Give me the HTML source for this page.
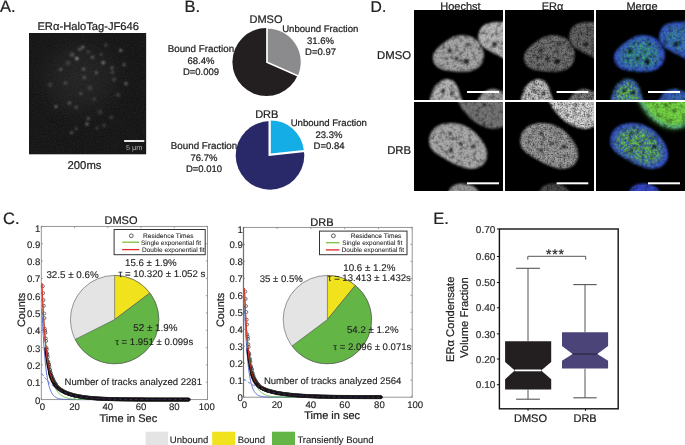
<!DOCTYPE html><html><head><meta charset="utf-8"><style>html,body{margin:0;padding:0;background:#fff;overflow:hidden}svg{display:block;font-family:"Liberation Sans",sans-serif}</style></head><body><svg width="685" height="445" viewBox="0 0 685 445" font-family="Liberation Sans, sans-serif" style="will-change:transform" text-rendering="geometricPrecision">
<defs>
<filter id="noise" x="0" y="0" width="100%" height="100%">
<feTurbulence type="fractalNoise" baseFrequency="0.9" numOctaves="2" seed="3" result="t"/>
<feColorMatrix type="matrix" values="0 0 0 0 1  0 0 0 0 1  0 0 0 0 1  0 0 0 0.35 -0.1"/>
</filter>
<filter id="b1"><feGaussianBlur stdDeviation="1"/></filter>
<filter id="b20" x="-50%" y="-50%" width="200%" height="200%"><feGaussianBlur stdDeviation="14"/></filter>
<filter id="b07"><feGaussianBlur stdDeviation="0.7"/></filter>
<filter id="b15"><feGaussianBlur stdDeviation="1.5"/></filter>
<filter id="tex" x="0" y="0" width="100%" height="100%">
<feTurbulence type="fractalNoise" baseFrequency="0.6" numOctaves="2" seed="7"/>
<feColorMatrix type="matrix" values="0 0 0 0 0  0 0 0 0 0  0 0 0 0 0  0 0 0 -1.2 0.75"/>
</filter>
<clipPath id="cA"><rect x="29" y="33" width="117.4" height="121.6"/></clipPath>
</defs>
<rect width="685" height="445" fill="#fff"/>
<text x="0" y="11.5" font-size="16.5" text-anchor="start" fill="#222" stroke="#222" stroke-width="0.22" >A.</text>
<text x="184.6" y="11.6" font-size="16.5" text-anchor="start" fill="#222" stroke="#222" stroke-width="0.22" >B.</text>
<text x="3" y="223.5" font-size="16.5" text-anchor="start" fill="#222" stroke="#222" stroke-width="0.22" >C.</text>
<text x="370.6" y="11.6" font-size="15.7" text-anchor="start" fill="#222" stroke="#222" stroke-width="0.22" >D.</text>
<text x="433.3" y="224" font-size="16.5" text-anchor="start" fill="#222" stroke="#222" stroke-width="0.22" >E.</text>
<text x="88.2" y="29.8" font-size="11.2" text-anchor="middle" fill="#222" stroke="#222" stroke-width="0.22" >ERα-HaloTag-JF646</text>
<g clip-path="url(#cA)">
<rect x="29" y="33" width="117.4" height="121.6" fill="#141414"/>
<rect x="29" y="33" width="117.4" height="121.6" filter="url(#noise)" opacity="0.3"/>
<ellipse cx="80" cy="78" rx="34" ry="32" fill="#fff" opacity="0.06" filter="url(#b20)"/>
<g filter="url(#b1)">
<circle cx="76.9" cy="58.6" r="1.43" fill="#fff" opacity="0.75"/>
<circle cx="82.9" cy="47.2" r="1.43" fill="#fff" opacity="0.41"/>
<circle cx="79.6" cy="49.2" r="1.76" fill="#fff" opacity="0.26"/>
<circle cx="72.1" cy="54.6" r="2.20" fill="#fff" opacity="0.22"/>
<circle cx="60.7" cy="69.4" r="1.21" fill="#fff" opacity="0.45"/>
<circle cx="83.6" cy="69.1" r="1.32" fill="#fff" opacity="0.41"/>
<circle cx="84.3" cy="77.5" r="1.76" fill="#fff" opacity="0.22"/>
<circle cx="65.4" cy="82.9" r="1.76" fill="#fff" opacity="0.22"/>
<circle cx="120.7" cy="50.5" r="1.43" fill="#fff" opacity="0.45"/>
<circle cx="92.4" cy="57.3" r="1.43" fill="#fff" opacity="0.34"/>
<circle cx="103.2" cy="62.7" r="1.65" fill="#fff" opacity="0.45"/>
<circle cx="101.2" cy="54.6" r="1.43" fill="#fff" opacity="0.22"/>
<circle cx="124.1" cy="64.7" r="1.43" fill="#fff" opacity="0.34"/>
<circle cx="112.0" cy="67.8" r="1.54" fill="#fff" opacity="0.30"/>
<circle cx="96.4" cy="72.8" r="1.43" fill="#fff" opacity="0.34"/>
<circle cx="112.6" cy="72.1" r="1.65" fill="#fff" opacity="0.22"/>
<circle cx="126.1" cy="83.6" r="1.65" fill="#fff" opacity="0.38"/>
<circle cx="114.0" cy="79.5" r="1.76" fill="#fff" opacity="0.22"/>
<circle cx="88.3" cy="51.9" r="1.43" fill="#fff" opacity="0.22"/>
<circle cx="56.0" cy="106.5" r="1.10" fill="#fff" opacity="0.71"/>
<circle cx="69.4" cy="103.1" r="1.76" fill="#fff" opacity="0.26"/>
<circle cx="76.2" cy="107.2" r="1.54" fill="#fff" opacity="0.26"/>
<circle cx="87.0" cy="124.0" r="1.54" fill="#fff" opacity="0.41"/>
<circle cx="76.2" cy="128.7" r="1.43" fill="#fff" opacity="0.22"/>
<circle cx="71.5" cy="132.8" r="1.21" fill="#fff" opacity="0.45"/>
<circle cx="80.9" cy="93.7" r="1.43" fill="#fff" opacity="0.26"/>
<circle cx="88.3" cy="118.6" r="1.54" fill="#fff" opacity="0.30"/>
<circle cx="97.1" cy="128.0" r="1.54" fill="#fff" opacity="0.19"/>
<circle cx="103.9" cy="125.4" r="1.76" fill="#fff" opacity="0.19"/>
<circle cx="111.3" cy="117.3" r="1.76" fill="#fff" opacity="0.19"/>
<circle cx="94.4" cy="99.0" r="1.54" fill="#fff" opacity="0.19"/>
<circle cx="106.0" cy="45.0" r="1.76" fill="#fff" opacity="0.19"/>
<circle cx="68.0" cy="63.0" r="2.20" fill="#fff" opacity="0.15"/>
<circle cx="90.0" cy="88.0" r="2.20" fill="#fff" opacity="0.15"/>
<circle cx="118.0" cy="95.0" r="2.20" fill="#fff" opacity="0.15"/>
<circle cx="50.0" cy="85.0" r="2.20" fill="#fff" opacity="0.15"/>
<circle cx="100.0" cy="112.0" r="2.20" fill="#fff" opacity="0.15"/>
</g>
</g>
<rect x="124.1" y="140.1" width="20.2" height="1.8" fill="#fff"/>
<text x="134.2" y="150.3" font-size="7.4" text-anchor="middle" fill="#b0b0b0" >5 µm</text>
<text x="84.5" y="168.7" font-size="11.3" text-anchor="middle" fill="#222" stroke="#222" stroke-width="0.22" >200ms</text>
<circle cx="266.4" cy="62.0" r="34" fill="#231f20"/>
<path d="M267.00,62.20 L267.00,27.60 A34.6,34.6 0 0 1 298.66,76.16 Z" fill="#8b8b8d" stroke="#fff" stroke-width="1.7" stroke-linejoin="miter"/>
<text x="266" y="22.9" font-size="11" text-anchor="middle" fill="#222" stroke="#222" stroke-width="0.22" >DMSO</text>
<text x="200.9" y="52" font-size="9.8" text-anchor="middle" fill="#222" stroke="#222" stroke-width="0.22" >Bound Fraction</text>
<text x="201" y="63.9" font-size="9.5" text-anchor="middle" fill="#222" stroke="#222" stroke-width="0.22" >68.4%</text>
<text x="201" y="75" font-size="9.5" text-anchor="middle" fill="#222" stroke="#222" stroke-width="0.22" >D=0.009</text>
<text x="320.3" y="32.3" font-size="9.6" text-anchor="middle" fill="#222" stroke="#222" stroke-width="0.22" >Unbound Fraction</text>
<text x="320.5" y="44.2" font-size="9.5" text-anchor="middle" fill="#222" stroke="#222" stroke-width="0.22" >31.6%</text>
<text x="320.5" y="55.3" font-size="9.5" text-anchor="middle" fill="#222" stroke="#222" stroke-width="0.22" >D=0.97</text>
<circle cx="270" cy="155.4" r="34.3" fill="#29296a"/>
<path d="M268.50,155.90 L268.50,118.90 A37,37 0 0 1 305.29,151.97 Z" fill="#fff"/>
<path d="M270.80,153.60 L270.80,120.40 A33.2,33.2 0 0 1 303.81,150.07 Z" fill="#15ade6"/>
<text x="266.8" y="118" font-size="11" text-anchor="middle" fill="#222" stroke="#222" stroke-width="0.22" >DRB</text>
<text x="204" y="148.9" font-size="9.8" text-anchor="middle" fill="#222" stroke="#222" stroke-width="0.22" >Bound Fraction</text>
<text x="204" y="160.7" font-size="9.5" text-anchor="middle" fill="#222" stroke="#222" stroke-width="0.22" >76.7%</text>
<text x="204" y="171.8" font-size="9.5" text-anchor="middle" fill="#222" stroke="#222" stroke-width="0.22" >D=0.010</text>
<text x="328.8" y="125.8" font-size="9.6" text-anchor="middle" fill="#222" stroke="#222" stroke-width="0.22" >Unbound Fraction</text>
<text x="329" y="137.6" font-size="9.5" text-anchor="middle" fill="#222" stroke="#222" stroke-width="0.22" >23.3%</text>
<text x="329" y="148.8" font-size="9.5" text-anchor="middle" fill="#222" stroke="#222" stroke-width="0.22" >D=0.84</text>
<g>
<defs>
<clipPath id="cd00"><rect x="414" y="10" width="89" height="90"/></clipPath>
<clipPath id="cd01"><rect x="414" y="102" width="89" height="89"/></clipPath>
<clipPath id="cd10"><rect x="505" y="10" width="89" height="90"/></clipPath>
<clipPath id="cd11"><rect x="505" y="102" width="89" height="89"/></clipPath>
<clipPath id="cd20"><rect x="596" y="10" width="89" height="90"/></clipPath>
<clipPath id="cd21"><rect x="596" y="102" width="89" height="89"/></clipPath>
<filter id="nb" x="-20%" y="-20%" width="140%" height="140%"><feGaussianBlur stdDeviation="1.1"/></filter>
<filter id="nb2" x="-20%" y="-20%" width="140%" height="140%"><feGaussianBlur stdDeviation="3"/></filter>
<filter id="grain" x="0" y="0" width="100%" height="100%"><feTurbulence type="fractalNoise" baseFrequency="0.55" numOctaves="2" seed="11"/><feColorMatrix type="matrix" values="0 0 0 0 0  0 0 0 0 0  0 0 0 0 0  0 0 0 -1.6 0.9"/></filter>
<filter id="mott" x="0" y="0" width="100%" height="100%"><feTurbulence type="fractalNoise" baseFrequency="0.22" numOctaves="2" seed="4"/><feColorMatrix type="matrix" values="0 0 0 0 0  0 0 0 0 0  0 0 0 0 0  0 0 0 -2.2 1.2"/></filter>
<filter id="speck" x="0" y="0" width="100%" height="100%"><feTurbulence type="fractalNoise" baseFrequency="0.4" numOctaves="2" seed="9"/><feColorMatrix type="matrix" values="0 0 0 0 1  0 0 0 0 1  0 0 0 0 1  0 0 0 2.2 -0.45"/></filter>
<mask id="mspeck" maskUnits="userSpaceOnUse" x="596" y="10" width="89" height="181"><rect x="596" y="10" width="89" height="181" filter="url(#speck)"/></mask>
<filter id="grain2" x="0" y="0" width="100%" height="100%"><feTurbulence type="fractalNoise" baseFrequency="0.7" numOctaves="1" seed="21"/><feColorMatrix type="matrix" values="0 0 0 0 0  0 0 0 0 0  0 0 0 0 0  0 0 0 -3 1.6"/></filter>
</defs>
<text x="460.5" y="9.6" font-size="11" text-anchor="middle" fill="#222" stroke="#222" stroke-width="0.22">Hoechst</text>
<text x="552.5" y="9.6" font-size="11" text-anchor="middle" fill="#222" stroke="#222" stroke-width="0.22">ERα</text>
<text x="642" y="9.6" font-size="11" text-anchor="middle" fill="#222" stroke="#222" stroke-width="0.22">Merge</text>
<text x="411" y="58.6" font-size="11.3" text-anchor="end" fill="#222" stroke="#222" stroke-width="0.22">DMSO</text>
<text x="411" y="153.8" font-size="11.3" text-anchor="end" fill="#222" stroke="#222" stroke-width="0.22">DRB</text>
<rect x="414" y="10" width="271" height="181" fill="#000"/>
<g clip-path="url(#cd00)">
<path d="M433.22,54.50 C433.89,51.80 435.91,49.78 438.27,47.42 C440.63,45.06 444.68,42.19 447.37,40.34 C450.07,38.49 451.59,37.14 454.45,36.29 C457.32,35.45 461.20,34.95 464.57,35.28 C467.94,35.62 471.98,36.63 474.68,38.32 C477.38,40.00 479.23,42.87 480.75,45.40 C482.26,47.92 483.61,50.45 483.78,53.49 C483.95,56.52 483.28,60.90 481.76,63.60 C480.24,66.30 477.55,68.32 474.68,69.67 C471.81,71.02 468.61,71.45 464.57,71.69 C460.52,71.93 454.45,71.59 450.41,71.08 C446.36,70.58 442.99,69.90 440.29,68.66 C437.60,67.41 435.41,65.96 434.23,63.60 C433.05,61.24 432.54,57.20 433.22,54.50 Z" fill="#a6a6a6" filter="url(#nb)"/>
<circle cx="449.4" cy="50.5" r="2.0" fill="#000" opacity="0.75" filter="url(#nb)"/>
<circle cx="456.5" cy="58.5" r="2.0" fill="#000" opacity="0.75" filter="url(#nb)"/>
<circle cx="466.2" cy="61.6" r="2.7" fill="#000" opacity="0.75" filter="url(#nb)"/>
<circle cx="468.6" cy="44.4" r="1.6" fill="#000" opacity="0.75" filter="url(#nb)"/>
<circle cx="446.4" cy="58.5" r="1.3" fill="#000" opacity="0.75" filter="url(#nb)"/>
<path d="M478.32,38.32 C477.98,35.79 478.83,32.42 479.74,30.23 C480.65,28.04 481.76,26.45 483.78,25.17 C485.80,23.89 489.01,23.05 491.87,22.54 C494.74,22.03 498.11,22.03 500.97,22.14 C503.84,22.24 507.72,17.25 509.06,23.15 C510.41,29.05 511.09,52.31 509.06,57.53 C507.04,62.76 500.30,55.68 496.93,54.50 C493.56,53.32 491.37,51.97 488.84,50.45 C486.31,48.94 483.51,47.42 481.76,45.40 C480.01,43.37 478.66,40.85 478.32,38.32 Z" fill="#b8b8b8" filter="url(#nb)"/>
<circle cx="494.9" cy="44.4" r="2.4" fill="#000" opacity="0.75" filter="url(#nb)"/>
<path d="M431.80,105.06 C427.08,102.70 431.70,94.45 432.61,90.91 C433.52,87.37 435.31,85.75 437.26,83.83 C439.22,81.91 441.98,80.05 444.34,79.38 C446.70,78.70 449.40,78.87 451.42,79.78 C453.44,80.69 455.13,82.65 456.48,84.84 C457.82,87.03 458.77,89.56 459.51,92.93 C460.25,96.30 465.54,103.04 460.93,105.06 C456.31,107.09 436.52,107.42 431.80,105.06 Z" fill="#b4b4b4" filter="url(#nb)"/>
<circle cx="443.3" cy="90.9" r="1.8" fill="#000" opacity="0.75" filter="url(#nb)"/>
<circle cx="452.4" cy="92.9" r="1.8" fill="#000" opacity="0.75" filter="url(#nb)"/>
<path d="M478.32,105.06 C473.77,103.21 480.17,96.47 481.76,93.94 C483.34,91.41 485.64,90.74 487.83,89.89 C490.02,89.05 492.71,88.71 494.91,88.88 C497.10,89.05 498.61,90.06 500.97,90.91 C503.33,91.75 507.72,91.58 509.06,93.94 C510.41,96.30 514.19,103.21 509.06,105.06 C503.94,106.92 482.87,106.92 478.32,105.06 Z" fill="#9a9a9a" filter="url(#nb)"/>
</g>
<g clip-path="url(#cd10)">
<path d="M524.22,54.50 C524.89,51.80 526.91,49.78 529.27,47.42 C531.63,45.06 535.68,42.19 538.37,40.34 C541.07,38.49 542.59,37.14 545.45,36.29 C548.32,35.45 552.20,34.95 555.57,35.28 C558.94,35.62 562.98,36.63 565.68,38.32 C568.38,40.00 570.23,42.87 571.75,45.40 C573.26,47.92 574.61,50.45 574.78,53.49 C574.95,56.52 574.28,60.90 572.76,63.60 C571.24,66.30 568.55,68.32 565.68,69.67 C562.81,71.02 559.61,71.45 555.57,71.69 C551.52,71.93 545.45,71.59 541.41,71.08 C537.36,70.58 533.99,69.90 531.29,68.66 C528.60,67.41 526.41,65.96 525.23,63.60 C524.05,61.24 523.54,57.20 524.22,54.50 Z" fill="#767676" filter="url(#nb)"/>
<circle cx="540.4" cy="50.5" r="2.0" fill="#000" opacity="0.75" filter="url(#nb)"/>
<circle cx="547.5" cy="58.5" r="2.0" fill="#000" opacity="0.75" filter="url(#nb)"/>
<circle cx="557.2" cy="61.6" r="2.7" fill="#000" opacity="0.75" filter="url(#nb)"/>
<circle cx="559.6" cy="44.4" r="1.6" fill="#000" opacity="0.75" filter="url(#nb)"/>
<circle cx="537.4" cy="58.5" r="1.3" fill="#000" opacity="0.75" filter="url(#nb)"/>
<path d="M569.32,38.32 C568.98,35.79 569.83,32.42 570.74,30.23 C571.65,28.04 572.76,26.45 574.78,25.17 C576.80,23.89 580.01,23.05 582.87,22.54 C585.74,22.03 589.11,22.03 591.97,22.14 C594.84,22.24 598.72,17.25 600.06,23.15 C601.41,29.05 602.09,52.31 600.06,57.53 C598.04,62.76 591.30,55.68 587.93,54.50 C584.56,53.32 582.37,51.97 579.84,50.45 C577.31,48.94 574.51,47.42 572.76,45.40 C571.01,43.37 569.66,40.85 569.32,38.32 Z" fill="#6c6c6c" filter="url(#nb)"/>
<circle cx="585.9" cy="44.4" r="2.4" fill="#000" opacity="0.75" filter="url(#nb)"/>
<path d="M522.80,105.06 C518.08,102.70 522.70,94.45 523.61,90.91 C524.52,87.37 526.31,85.75 528.26,83.83 C530.22,81.91 532.98,80.05 535.34,79.38 C537.70,78.70 540.40,78.87 542.42,79.78 C544.44,80.69 546.13,82.65 547.48,84.84 C548.82,87.03 549.77,89.56 550.51,92.93 C551.25,96.30 556.54,103.04 551.93,105.06 C547.31,107.09 527.52,107.42 522.80,105.06 Z" fill="#c8c8c8" filter="url(#nb)"/>
<circle cx="534.3" cy="90.9" r="1.8" fill="#000" opacity="0.75" filter="url(#nb)"/>
<circle cx="543.4" cy="92.9" r="1.8" fill="#000" opacity="0.75" filter="url(#nb)"/>
<path d="M569.32,105.06 C564.77,103.21 571.17,96.47 572.76,93.94 C574.34,91.41 576.64,90.74 578.83,89.89 C581.02,89.05 583.71,88.71 585.91,88.88 C588.10,89.05 589.61,90.06 591.97,90.91 C594.33,91.75 598.72,91.58 600.06,93.94 C601.41,96.30 605.19,103.21 600.06,105.06 C594.94,106.92 573.87,106.92 569.32,105.06 Z" fill="#808080" filter="url(#nb)"/>
</g>
<g clip-path="url(#cd20)">
<path d="M614.22,54.50 C614.89,51.80 616.91,49.78 619.27,47.42 C621.63,45.06 625.68,42.19 628.37,40.34 C631.07,38.49 632.59,37.14 635.45,36.29 C638.32,35.45 642.20,34.95 645.57,35.28 C648.94,35.62 652.98,36.63 655.68,38.32 C658.38,40.00 660.23,42.87 661.75,45.40 C663.26,47.92 664.61,50.45 664.78,53.49 C664.95,56.52 664.28,60.90 662.76,63.60 C661.24,66.30 658.55,68.32 655.68,69.67 C652.81,71.02 649.61,71.45 645.57,71.69 C641.52,71.93 635.45,71.59 631.41,71.08 C627.36,70.58 623.99,69.90 621.29,68.66 C618.60,67.41 616.41,65.96 615.23,63.60 C614.05,61.24 613.54,57.20 614.22,54.50 Z" fill="#3450d0" filter="url(#nb)"/>
<g mask="url(#mspeck)"><path d="M619.33,54.45 C619.87,52.29 621.49,50.67 623.37,48.78 C625.26,46.90 628.50,44.60 630.66,43.12 C632.81,41.64 634.03,40.56 636.32,39.88 C638.61,39.21 641.71,38.80 644.41,39.07 C647.11,39.34 650.34,40.15 652.50,41.50 C654.66,42.85 656.14,45.14 657.36,47.16 C658.57,49.19 659.65,51.21 659.78,53.64 C659.92,56.06 659.38,59.57 658.16,61.73 C656.95,63.89 654.79,65.50 652.50,66.58 C650.21,67.66 647.65,68.01 644.41,68.20 C641.17,68.39 636.32,68.12 633.08,67.71 C629.85,67.31 627.15,66.77 624.99,65.77 C622.84,64.78 621.08,63.62 620.14,61.73 C619.19,59.84 618.79,56.60 619.33,54.45 Z" fill="#40c060" filter="url(#nb2)" opacity="0.75"/></g>
<circle cx="630.4" cy="50.5" r="2.0" fill="#000" opacity="0.75" filter="url(#nb)"/>
<circle cx="637.5" cy="58.5" r="2.0" fill="#000" opacity="0.75" filter="url(#nb)"/>
<circle cx="647.2" cy="61.6" r="2.7" fill="#000" opacity="0.75" filter="url(#nb)"/>
<circle cx="649.6" cy="44.4" r="1.6" fill="#000" opacity="0.75" filter="url(#nb)"/>
<circle cx="627.4" cy="58.5" r="1.3" fill="#000" opacity="0.75" filter="url(#nb)"/>
<path d="M659.32,38.32 C658.98,35.79 659.83,32.42 660.74,30.23 C661.65,28.04 662.76,26.45 664.78,25.17 C666.80,23.89 670.01,23.05 672.87,22.54 C675.74,22.03 679.11,22.03 681.97,22.14 C684.84,22.24 688.72,17.25 690.06,23.15 C691.41,29.05 692.09,52.31 690.06,57.53 C688.04,62.76 681.30,55.68 677.93,54.50 C674.56,53.32 672.37,51.97 669.84,50.45 C667.31,48.94 664.51,47.42 662.76,45.40 C661.01,43.37 659.66,40.85 659.32,38.32 Z" fill="#3450d0" filter="url(#nb)"/>
<g mask="url(#mspeck)"><path d="M662.06,38.04 C661.79,36.02 662.47,33.32 663.20,31.57 C663.92,29.82 664.81,28.55 666.43,27.52 C668.05,26.50 670.61,25.83 672.90,25.42 C675.20,25.02 677.89,25.02 680.19,25.10 C682.48,25.18 685.58,21.19 686.66,25.91 C687.74,30.63 688.28,49.23 686.66,53.41 C685.04,57.59 679.65,51.93 676.95,50.99 C674.25,50.04 672.50,48.96 670.48,47.75 C668.45,46.54 666.22,45.32 664.81,43.71 C663.41,42.09 662.33,40.06 662.06,38.04 Z" fill="#40b070" filter="url(#nb2)" opacity="0.6"/></g>
<circle cx="675.9" cy="44.4" r="2.4" fill="#000" opacity="0.75" filter="url(#nb)"/>
<path d="M612.80,105.06 C608.08,102.70 612.70,94.45 613.61,90.91 C614.52,87.37 616.31,85.75 618.26,83.83 C620.22,81.91 622.98,80.05 625.34,79.38 C627.70,78.70 630.40,78.87 632.42,79.78 C634.44,80.69 636.13,82.65 637.48,84.84 C638.82,87.03 639.77,89.56 640.51,92.93 C641.25,96.30 646.54,103.04 641.93,105.06 C637.31,107.09 617.52,107.42 612.80,105.06 Z" fill="#3450d0" filter="url(#nb)"/>
<g mask="url(#mspeck)"><path d="M615.80,102.10 C612.02,100.21 615.72,93.60 616.45,90.77 C617.17,87.94 618.60,86.64 620.17,85.11 C621.73,83.57 623.94,82.09 625.83,81.55 C627.72,81.01 629.88,81.14 631.49,81.87 C633.11,82.60 634.46,84.16 635.54,85.92 C636.62,87.67 637.37,89.69 637.97,92.39 C638.56,95.08 642.79,100.48 639.10,102.10 C635.40,103.71 619.57,103.98 615.80,102.10 Z" fill="#70d040" filter="url(#nb2)" opacity="0.95"/></g>
<circle cx="624.3" cy="90.9" r="1.8" fill="#000" opacity="0.75" filter="url(#nb)"/>
<circle cx="633.4" cy="92.9" r="1.8" fill="#000" opacity="0.75" filter="url(#nb)"/>
<path d="M659.32,105.06 C654.77,103.21 661.17,96.47 662.76,93.94 C664.34,91.41 666.64,90.74 668.83,89.89 C671.02,89.05 673.71,88.71 675.91,88.88 C678.10,89.05 679.61,90.06 681.97,90.91 C684.33,91.75 688.72,91.58 690.06,93.94 C691.41,96.30 695.19,103.21 690.06,105.06 C684.94,106.92 663.87,106.92 659.32,105.06 Z" fill="#3450c8" filter="url(#nb)"/>
<g mask="url(#mspeck)"><path d="M662.57,103.13 C658.93,101.65 664.05,96.25 665.32,94.23 C666.59,92.21 668.42,91.67 670.17,90.99 C671.93,90.32 674.08,90.05 675.84,90.18 C677.59,90.32 678.80,91.13 680.69,91.80 C682.58,92.48 686.08,92.34 687.16,94.23 C688.24,96.12 691.26,101.65 687.16,103.13 C683.06,104.61 666.21,104.61 662.57,103.13 Z" fill="#40b070" filter="url(#nb2)" opacity="0.4"/></g>
</g>
<g clip-path="url(#cd01)">
<path d="M429.17,140.44 C429.27,137.91 429.84,134.71 431.19,132.35 C432.54,129.99 434.73,127.80 437.26,126.28 C439.79,124.77 442.82,123.69 446.36,123.25 C449.90,122.81 454.62,122.81 458.50,123.65 C462.38,124.50 466.25,126.18 469.62,128.31 C472.99,130.43 476.20,133.53 478.72,136.40 C481.25,139.26 483.38,142.46 484.79,145.50 C486.21,148.53 487.22,151.73 487.22,154.60 C487.22,157.47 486.38,160.50 484.79,162.69 C483.21,164.88 480.41,166.74 477.71,167.75 C475.02,168.76 471.98,169.16 468.61,168.76 C465.24,168.35 461.20,166.84 457.49,165.32 C453.78,163.80 449.90,161.61 446.36,159.66 C442.82,157.70 438.88,155.61 436.25,153.59 C433.62,151.57 431.77,149.71 430.59,147.52 C429.41,145.33 429.07,142.97 429.17,140.44 Z" fill="#aaaaaa" filter="url(#nb)"/>
<circle cx="450.4" cy="133.4" r="1.6" fill="#000" opacity="0.75" filter="url(#nb)"/>
<circle cx="473.7" cy="146.5" r="2.0" fill="#000" opacity="0.75" filter="url(#nb)"/>
<circle cx="450.4" cy="150.6" r="1.8" fill="#000" opacity="0.75" filter="url(#nb)"/>
<circle cx="460.5" cy="143.5" r="1.6" fill="#000" opacity="0.75" filter="url(#nb)"/>
<circle cx="440.3" cy="137.4" r="1.1" fill="#000" opacity="0.75" filter="url(#nb)"/>
<path d="M459.51,94.93 C451.35,96.62 459.27,102.18 460.12,105.05 C460.96,107.91 462.48,109.60 464.57,112.12 C466.66,114.65 469.62,117.86 472.66,120.22 C475.69,122.57 479.23,124.83 482.77,126.28 C486.31,127.73 490.86,128.74 493.89,128.91 C496.93,129.08 498.45,128.24 500.97,127.29 C503.50,126.35 507.72,128.64 509.06,123.25 C510.41,117.86 517.32,99.65 509.06,94.93 C500.81,90.21 467.67,93.25 459.51,94.93 Z" fill="#767676" filter="url(#nb)"/>
<circle cx="484.8" cy="105.0" r="1.6" fill="#000" opacity="0.75" filter="url(#nb)"/>
<circle cx="476.7" cy="115.2" r="1.1" fill="#000" opacity="0.75" filter="url(#nb)"/>
<path d="M449.40,196.06 C444.74,194.65 449.63,189.52 450.81,187.57 C451.99,185.61 454.18,185.01 456.48,184.33 C458.77,183.66 462.04,183.32 464.57,183.52 C467.09,183.73 469.62,184.64 471.65,185.55 C473.67,186.46 475.52,187.23 476.70,188.99 C477.88,190.74 483.28,194.88 478.72,196.06 C474.17,197.24 454.05,197.48 449.40,196.06 Z" fill="#9a9a9a" filter="url(#nb)"/>
</g>
<g clip-path="url(#cd11)">
<path d="M520.17,140.44 C520.27,137.91 520.84,134.71 522.19,132.35 C523.54,129.99 525.73,127.80 528.26,126.28 C530.79,124.77 533.82,123.69 537.36,123.25 C540.90,122.81 545.62,122.81 549.50,123.65 C553.38,124.50 557.25,126.18 560.62,128.31 C563.99,130.43 567.20,133.53 569.72,136.40 C572.25,139.26 574.38,142.46 575.79,145.50 C577.21,148.53 578.22,151.73 578.22,154.60 C578.22,157.47 577.38,160.50 575.79,162.69 C574.21,164.88 571.41,166.74 568.71,167.75 C566.02,168.76 562.98,169.16 559.61,168.76 C556.24,168.35 552.20,166.84 548.49,165.32 C544.78,163.80 540.90,161.61 537.36,159.66 C533.82,157.70 529.88,155.61 527.25,153.59 C524.62,151.57 522.77,149.71 521.59,147.52 C520.41,145.33 520.07,142.97 520.17,140.44 Z" fill="#a0a0a0" filter="url(#nb)"/>
<circle cx="541.4" cy="133.4" r="1.6" fill="#000" opacity="0.75" filter="url(#nb)"/>
<circle cx="564.7" cy="146.5" r="2.0" fill="#000" opacity="0.75" filter="url(#nb)"/>
<circle cx="541.4" cy="150.6" r="1.8" fill="#000" opacity="0.75" filter="url(#nb)"/>
<circle cx="551.5" cy="143.5" r="1.6" fill="#000" opacity="0.75" filter="url(#nb)"/>
<circle cx="531.3" cy="137.4" r="1.1" fill="#000" opacity="0.75" filter="url(#nb)"/>
<path d="M550.51,94.93 C542.35,96.62 550.27,102.18 551.12,105.05 C551.96,107.91 553.48,109.60 555.57,112.12 C557.66,114.65 560.62,117.86 563.66,120.22 C566.69,122.57 570.23,124.83 573.77,126.28 C577.31,127.73 581.86,128.74 584.89,128.91 C587.93,129.08 589.45,128.24 591.97,127.29 C594.50,126.35 598.72,128.64 600.06,123.25 C601.41,117.86 608.32,99.65 600.06,94.93 C591.81,90.21 558.67,93.25 550.51,94.93 Z" fill="#dcdcdc" filter="url(#nb)"/>
<circle cx="575.8" cy="105.0" r="1.6" fill="#000" opacity="0.75" filter="url(#nb)"/>
<circle cx="567.7" cy="115.2" r="1.1" fill="#000" opacity="0.75" filter="url(#nb)"/>
<path d="M540.40,196.06 C535.74,194.65 540.63,189.52 541.81,187.57 C542.99,185.61 545.18,185.01 547.48,184.33 C549.77,183.66 553.04,183.32 555.57,183.52 C558.09,183.73 560.62,184.64 562.65,185.55 C564.67,186.46 566.52,187.23 567.70,188.99 C568.88,190.74 574.28,194.88 569.72,196.06 C565.17,197.24 545.05,197.48 540.40,196.06 Z" fill="#505050" filter="url(#nb)"/>
</g>
<g clip-path="url(#cd21)">
<path d="M610.17,140.44 C610.27,137.91 610.84,134.71 612.19,132.35 C613.54,129.99 615.73,127.80 618.26,126.28 C620.79,124.77 623.82,123.69 627.36,123.25 C630.90,122.81 635.62,122.81 639.50,123.65 C643.38,124.50 647.25,126.18 650.62,128.31 C653.99,130.43 657.20,133.53 659.72,136.40 C662.25,139.26 664.38,142.46 665.79,145.50 C667.21,148.53 668.22,151.73 668.22,154.60 C668.22,157.47 667.38,160.50 665.79,162.69 C664.21,164.88 661.41,166.74 658.71,167.75 C656.02,168.76 652.98,169.16 649.61,168.76 C646.24,168.35 642.20,166.84 638.49,165.32 C634.78,163.80 630.90,161.61 627.36,159.66 C623.82,157.70 619.88,155.61 617.25,153.59 C614.62,151.57 612.77,149.71 611.59,147.52 C610.41,145.33 610.07,142.97 610.17,140.44 Z" fill="#3450cc" filter="url(#nb)"/>
<g mask="url(#mspeck)"><path d="M615.89,141.55 C615.97,139.53 616.43,136.97 617.51,135.08 C618.59,133.19 620.34,131.44 622.37,130.23 C624.39,129.01 626.82,128.15 629.65,127.80 C632.48,127.45 636.26,127.45 639.36,128.12 C642.46,128.80 645.56,130.15 648.26,131.85 C650.95,133.54 653.52,136.03 655.54,138.32 C657.56,140.61 659.26,143.17 660.39,145.60 C661.53,148.03 662.33,150.59 662.33,152.88 C662.33,155.17 661.66,157.60 660.39,159.35 C659.12,161.11 656.89,162.59 654.73,163.40 C652.57,164.21 650.14,164.53 647.45,164.21 C644.75,163.88 641.51,162.67 638.55,161.46 C635.58,160.24 632.48,158.49 629.65,156.93 C626.82,155.36 623.66,153.69 621.56,152.07 C619.45,150.45 617.97,148.97 617.03,147.22 C616.08,145.46 615.81,143.58 615.89,141.55 Z" fill="#70d040" filter="url(#nb2)" opacity="0.9"/></g>
<circle cx="631.4" cy="133.4" r="1.6" fill="#000" opacity="0.75" filter="url(#nb)"/>
<circle cx="654.7" cy="146.5" r="2.0" fill="#000" opacity="0.75" filter="url(#nb)"/>
<circle cx="631.4" cy="150.6" r="1.8" fill="#000" opacity="0.75" filter="url(#nb)"/>
<circle cx="641.5" cy="143.5" r="1.6" fill="#000" opacity="0.75" filter="url(#nb)"/>
<circle cx="621.3" cy="137.4" r="1.1" fill="#000" opacity="0.75" filter="url(#nb)"/>
<path d="M640.51,94.93 C632.35,96.62 640.27,102.18 641.12,105.05 C641.96,107.91 643.48,109.60 645.57,112.12 C647.66,114.65 650.62,117.86 653.66,120.22 C656.69,122.57 660.23,124.83 663.77,126.28 C667.31,127.73 671.86,128.74 674.89,128.91 C677.93,129.08 679.45,128.24 681.97,127.29 C684.50,126.35 688.72,128.64 690.06,123.25 C691.41,117.86 698.32,99.65 690.06,94.93 C681.81,90.21 648.67,93.25 640.51,94.93 Z" fill="#3a8cb0" filter="url(#nb)"/>
<g ><path d="M642.44,96.52 C634.93,98.07 642.22,103.19 643.00,105.82 C643.77,108.46 645.17,110.01 647.09,112.34 C649.01,114.66 651.74,117.61 654.53,119.78 C657.33,121.95 660.58,124.03 663.84,125.36 C667.10,126.70 671.28,127.63 674.07,127.78 C676.86,127.94 678.26,127.16 680.59,126.29 C682.91,125.42 686.79,127.53 688.03,122.57 C689.27,117.61 695.63,100.86 688.03,96.52 C680.43,92.18 649.94,94.97 642.44,96.52 Z" fill="#74d444" filter="url(#nb2)" opacity="1.0"/></g>
<circle cx="665.8" cy="105.0" r="1.6" fill="#000" opacity="0.75" filter="url(#nb)"/>
<circle cx="657.7" cy="115.2" r="1.1" fill="#000" opacity="0.75" filter="url(#nb)"/>
<path d="M630.40,196.06 C625.74,194.65 630.63,189.52 631.81,187.57 C632.99,185.61 635.18,185.01 637.48,184.33 C639.77,183.66 643.04,183.32 645.57,183.52 C648.09,183.73 650.62,184.64 652.65,185.55 C654.67,186.46 656.52,187.23 657.70,188.99 C658.88,190.74 664.28,194.88 659.72,196.06 C655.17,197.24 635.05,197.48 630.40,196.06 Z" fill="#3448c8" filter="url(#nb)"/>
</g>
<rect x="414" y="10" width="271" height="181" filter="url(#grain)" opacity="0.35"/>
<rect x="414" y="10" width="271" height="181" filter="url(#mott)" opacity="0.45"/>
<rect x="505" y="10" width="89" height="181" filter="url(#grain2)" opacity="0.5"/>
<rect x="503" y="10" width="2" height="181" fill="#fff"/>
<rect x="594" y="10" width="2" height="181" fill="#fff"/>
<rect x="414" y="100" width="271" height="2" fill="#fff"/>
<rect x="467" y="91" width="32" height="2" fill="#fff"/>
<rect x="467" y="182.3" width="32" height="2" fill="#fff"/>
<rect x="556.6" y="91" width="31.699999999999932" height="2" fill="#fff"/>
<rect x="556.6" y="182.3" width="31.699999999999932" height="2" fill="#fff"/>
<rect x="648" y="91" width="32" height="2" fill="#fff"/>
<rect x="648" y="182.3" width="32" height="2" fill="#fff"/>
</g>
<rect x="41.3" y="226.4" width="166.2" height="173.20000000000002" fill="none" stroke="#8a8a8a" stroke-width="0.9"/>
<line x1="41.3" y1="399.60" x2="43.0" y2="399.60" stroke="#8a8a8a" stroke-width="0.8"/>
<line x1="207.5" y1="399.60" x2="205.8" y2="399.60" stroke="#8a8a8a" stroke-width="0.8"/>
<text x="40.3" y="403.60" font-size="9.6" text-anchor="end" fill="#222" stroke="#222" stroke-width="0.12" >0</text>
<line x1="41.3" y1="382.28" x2="43.0" y2="382.28" stroke="#8a8a8a" stroke-width="0.8"/>
<line x1="207.5" y1="382.28" x2="205.8" y2="382.28" stroke="#8a8a8a" stroke-width="0.8"/>
<text x="40.3" y="386.28" font-size="9.6" text-anchor="end" fill="#222" stroke="#222" stroke-width="0.12" >0.1</text>
<line x1="41.3" y1="364.96" x2="43.0" y2="364.96" stroke="#8a8a8a" stroke-width="0.8"/>
<line x1="207.5" y1="364.96" x2="205.8" y2="364.96" stroke="#8a8a8a" stroke-width="0.8"/>
<text x="40.3" y="368.96" font-size="9.6" text-anchor="end" fill="#222" stroke="#222" stroke-width="0.12" >0.2</text>
<line x1="41.3" y1="347.64" x2="43.0" y2="347.64" stroke="#8a8a8a" stroke-width="0.8"/>
<line x1="207.5" y1="347.64" x2="205.8" y2="347.64" stroke="#8a8a8a" stroke-width="0.8"/>
<text x="40.3" y="351.64" font-size="9.6" text-anchor="end" fill="#222" stroke="#222" stroke-width="0.12" >0.3</text>
<line x1="41.3" y1="330.32" x2="43.0" y2="330.32" stroke="#8a8a8a" stroke-width="0.8"/>
<line x1="207.5" y1="330.32" x2="205.8" y2="330.32" stroke="#8a8a8a" stroke-width="0.8"/>
<text x="40.3" y="334.32" font-size="9.6" text-anchor="end" fill="#222" stroke="#222" stroke-width="0.12" >0.4</text>
<line x1="41.3" y1="313.00" x2="43.0" y2="313.00" stroke="#8a8a8a" stroke-width="0.8"/>
<line x1="207.5" y1="313.00" x2="205.8" y2="313.00" stroke="#8a8a8a" stroke-width="0.8"/>
<text x="40.3" y="317.00" font-size="9.6" text-anchor="end" fill="#222" stroke="#222" stroke-width="0.12" >0.5</text>
<line x1="41.3" y1="295.68" x2="43.0" y2="295.68" stroke="#8a8a8a" stroke-width="0.8"/>
<line x1="207.5" y1="295.68" x2="205.8" y2="295.68" stroke="#8a8a8a" stroke-width="0.8"/>
<text x="40.3" y="299.68" font-size="9.6" text-anchor="end" fill="#222" stroke="#222" stroke-width="0.12" >0.6</text>
<line x1="41.3" y1="278.36" x2="43.0" y2="278.36" stroke="#8a8a8a" stroke-width="0.8"/>
<line x1="207.5" y1="278.36" x2="205.8" y2="278.36" stroke="#8a8a8a" stroke-width="0.8"/>
<text x="40.3" y="282.36" font-size="9.6" text-anchor="end" fill="#222" stroke="#222" stroke-width="0.12" >0.7</text>
<line x1="41.3" y1="261.04" x2="43.0" y2="261.04" stroke="#8a8a8a" stroke-width="0.8"/>
<line x1="207.5" y1="261.04" x2="205.8" y2="261.04" stroke="#8a8a8a" stroke-width="0.8"/>
<text x="40.3" y="265.04" font-size="9.6" text-anchor="end" fill="#222" stroke="#222" stroke-width="0.12" >0.8</text>
<line x1="41.3" y1="243.72" x2="43.0" y2="243.72" stroke="#8a8a8a" stroke-width="0.8"/>
<line x1="207.5" y1="243.72" x2="205.8" y2="243.72" stroke="#8a8a8a" stroke-width="0.8"/>
<text x="40.3" y="247.72" font-size="9.6" text-anchor="end" fill="#222" stroke="#222" stroke-width="0.12" >0.9</text>
<line x1="41.3" y1="226.40" x2="43.0" y2="226.40" stroke="#8a8a8a" stroke-width="0.8"/>
<line x1="207.5" y1="226.40" x2="205.8" y2="226.40" stroke="#8a8a8a" stroke-width="0.8"/>
<text x="40.3" y="231.90" font-size="9.6" text-anchor="end" fill="#222" stroke="#222" stroke-width="0.12" >1</text>
<line x1="41.30" y1="399.6" x2="41.30" y2="397.90000000000003" stroke="#8a8a8a" stroke-width="0.8"/>
<line x1="41.30" y1="226.4" x2="41.30" y2="228.1" stroke="#8a8a8a" stroke-width="0.8"/>
<text x="42.30" y="410.2" font-size="9.6" text-anchor="middle" fill="#222" stroke="#222" stroke-width="0.12" >0</text>
<line x1="74.54" y1="399.6" x2="74.54" y2="397.90000000000003" stroke="#8a8a8a" stroke-width="0.8"/>
<line x1="74.54" y1="226.4" x2="74.54" y2="228.1" stroke="#8a8a8a" stroke-width="0.8"/>
<text x="74.54" y="410.2" font-size="9.6" text-anchor="middle" fill="#222" stroke="#222" stroke-width="0.12" >20</text>
<line x1="107.78" y1="399.6" x2="107.78" y2="397.90000000000003" stroke="#8a8a8a" stroke-width="0.8"/>
<line x1="107.78" y1="226.4" x2="107.78" y2="228.1" stroke="#8a8a8a" stroke-width="0.8"/>
<text x="107.78" y="410.2" font-size="9.6" text-anchor="middle" fill="#222" stroke="#222" stroke-width="0.12" >40</text>
<line x1="141.02" y1="399.6" x2="141.02" y2="397.90000000000003" stroke="#8a8a8a" stroke-width="0.8"/>
<line x1="141.02" y1="226.4" x2="141.02" y2="228.1" stroke="#8a8a8a" stroke-width="0.8"/>
<text x="141.02" y="410.2" font-size="9.6" text-anchor="middle" fill="#222" stroke="#222" stroke-width="0.12" >60</text>
<line x1="174.26" y1="399.6" x2="174.26" y2="397.90000000000003" stroke="#8a8a8a" stroke-width="0.8"/>
<line x1="174.26" y1="226.4" x2="174.26" y2="228.1" stroke="#8a8a8a" stroke-width="0.8"/>
<text x="174.26" y="410.2" font-size="9.6" text-anchor="middle" fill="#222" stroke="#222" stroke-width="0.12" >80</text>
<line x1="207.50" y1="399.6" x2="207.50" y2="397.90000000000003" stroke="#8a8a8a" stroke-width="0.8"/>
<line x1="207.50" y1="226.4" x2="207.50" y2="228.1" stroke="#8a8a8a" stroke-width="0.8"/>
<text x="206.80" y="410.2" font-size="9.6" text-anchor="middle" fill="#222" stroke="#222" stroke-width="0.12" >100</text>
<text x="121" y="224.4" font-size="11" text-anchor="middle" fill="#222" stroke="#222" stroke-width="0.22" >DMSO</text>
<text x="128.4" y="421.6" font-size="11" text-anchor="middle" fill="#222" stroke="#222" stroke-width="0.22" >Time in Sec</text>
<polyline points="41.96,308.98 42.29,316.61 42.62,323.61 42.95,330.01 43.28,335.87 43.61,341.24 43.94,346.15 44.27,350.66 44.60,354.78 44.93,358.56 45.26,362.01 45.58,365.18 45.91,368.08 46.24,370.73 46.57,373.17 46.90,375.39 47.23,377.43 47.56,379.30 47.89,381.01 48.22,382.58 48.55,384.01 48.88,385.32 49.20,386.53 49.53,387.63 49.86,388.64 50.19,389.56 50.52,390.40 50.85,391.18 51.18,391.89 51.51,392.54 51.84,393.13 52.17,393.68 52.50,394.18 52.82,394.63 53.15,395.05 53.48,395.44 53.81,395.79 54.14,396.11 54.47,396.40 54.80,396.67 55.13,396.92 55.46,397.14 55.79,397.35 56.12,397.54 56.44,397.71 56.77,397.87 57.10,398.02 57.43,398.15 57.76,398.27 58.09,398.39 58.42,398.49 58.75,398.58 59.08,398.67 59.41,398.75 59.73,398.82 60.06,398.88 60.39,398.94 60.72,399.00 61.05,399.05 61.38,399.10 61.71,399.14 62.04,399.18 62.37,399.21 62.70,399.25 63.03,399.28 63.35,399.30 63.68,399.33 64.01,399.35 64.34,399.37 64.67,399.39 65.00,399.41 65.33,399.42 65.66,399.44 65.99,399.45 66.32,399.47 66.65,399.48 66.97,399.49 67.30,399.50 67.63,399.51 67.96,399.51 68.29,399.52 68.62,399.53 68.95,399.53 69.28,399.54 69.61,399.54 69.94,399.55 70.27,399.55 70.59,399.56 70.92,399.56 71.25,399.56 71.58,399.57 71.91,399.57 72.24,399.57 72.57,399.57 72.90,399.58 73.23,399.58 73.56,399.58 73.89,399.58 74.21,399.58 74.54,399.59 74.87,399.59 75.20,399.59 75.53,399.59 75.86,399.59 76.19,399.59 76.52,399.59 76.85,399.59 77.18,399.59 77.51,399.59 77.83,399.59 78.16,399.59 78.49,399.59 78.82,399.60 79.15,399.60 79.48,399.60 79.81,399.60 80.14,399.60 80.47,399.60 80.80,399.60 81.12,399.60 81.45,399.60 81.78,399.60 82.11,399.60 82.44,399.60 82.77,399.60 83.10,399.60 83.43,399.60 83.76,399.60 84.09,399.60 84.42,399.60 84.74,399.60 85.07,399.60 85.40,399.60 85.73,399.60 86.06,399.60 86.39,399.60 86.72,399.60 87.05,399.60 87.38,399.60 87.71,399.60 88.04,399.60 88.36,399.60 88.69,399.60 89.02,399.60 89.35,399.60 89.68,399.60 90.01,399.60 90.34,399.60 90.67,399.60 91.00,399.60 91.33,399.60 91.66,399.60 91.98,399.60 92.31,399.60 92.64,399.60 92.97,399.60 93.30,399.60 93.63,399.60 93.96,399.60 94.29,399.60 94.62,399.60 94.95,399.60 95.28,399.60 95.60,399.60 95.93,399.60 96.26,399.60 96.59,399.60 96.92,399.60 97.25,399.60 97.58,399.60 97.91,399.60 98.24,399.60 98.57,399.60 98.89,399.60 99.22,399.60 99.55,399.60 99.88,399.60 100.21,399.60 100.54,399.60 100.87,399.60 101.20,399.60 101.53,399.60 101.86,399.60 102.19,399.60 102.51,399.60 102.84,399.60 103.17,399.60 103.50,399.60 103.83,399.60 104.16,399.60 104.49,399.60 104.82,399.60 105.15,399.60 105.48,399.60 105.81,399.60 106.13,399.60 106.46,399.60 106.79,399.60 107.12,399.60 107.45,399.60 107.78,399.60" fill="none" stroke="#4a5ed0" stroke-width="0.9"/>
<polyline points="41.80,373.51 42.53,374.59 43.27,375.62 44.00,376.61 44.74,377.56 45.48,378.47 46.21,379.34 46.95,380.18 47.68,380.98 48.42,381.75 49.15,382.48 49.89,383.19 50.62,383.87 51.36,384.52 52.09,385.14 52.83,385.73 53.57,386.31 54.30,386.86 55.04,387.38 55.77,387.89 56.51,388.37 57.24,388.83 57.98,389.28 58.71,389.70 59.45,390.11 60.18,390.50 60.92,390.88 61.66,391.24 62.39,391.58 63.13,391.91 63.86,392.23 64.60,392.54 65.33,392.83 66.07,393.11 66.80,393.37 67.54,393.63 68.27,393.88 69.01,394.11 69.75,394.34 70.48,394.56 71.22,394.77 71.95,394.96 72.69,395.16 73.42,395.34 74.16,395.52 74.89,395.68 75.63,395.85 76.36,396.00 77.10,396.15 77.83,396.29 78.57,396.43 79.31,396.56 80.04,396.68 80.78,396.80 81.51,396.92 82.25,397.03 82.98,397.14 83.72,397.24 84.45,397.34 85.19,397.43 85.92,397.52 86.66,397.60 87.40,397.69 88.13,397.77 88.87,397.84 89.60,397.91 90.34,397.98 91.07,398.05 91.81,398.11 92.54,398.18 93.28,398.23 94.01,398.29 94.75,398.34 95.49,398.40 96.22,398.45 96.96,398.49 97.69,398.54 98.43,398.58 99.16,398.63 99.90,398.67 100.63,398.70 101.37,398.74 102.10,398.78 102.84,398.81 103.58,398.84 104.31,398.87 105.05,398.90 105.78,398.93 106.52,398.96 107.25,398.99 107.99,399.01 108.72,399.04 109.46,399.06 110.19,399.08 110.93,399.10 111.66,399.12 112.40,399.14 113.14,399.16 113.87,399.18 114.61,399.20 115.34,399.21 116.08,399.23 116.81,399.25 117.55,399.26 118.28,399.27 119.02,399.29 119.75,399.30 120.49,399.31 121.23,399.32 121.96,399.34 122.70,399.35 123.43,399.36 124.17,399.37 124.90,399.38 125.64,399.39 126.37,399.40 127.11,399.40 127.84,399.41 128.58,399.42 129.32,399.43 130.05,399.43 130.79,399.44 131.52,399.45 132.26,399.45 132.99,399.46 133.73,399.47 134.46,399.47 135.20,399.48 135.93,399.48 136.67,399.49 137.41,399.49 138.14,399.50 138.88,399.50 139.61,399.50 140.35,399.51 141.08,399.51 141.82,399.52 142.55,399.52 143.29,399.52 144.02,399.53 144.76,399.53 145.49,399.53 146.23,399.53 146.97,399.54 147.70,399.54 148.44,399.54 149.17,399.54 149.91,399.55 150.64,399.55 151.38,399.55 152.11,399.55 152.85,399.56 153.58,399.56 154.32,399.56 155.06,399.56 155.79,399.56 156.53,399.56 157.26,399.57 158.00,399.57 158.73,399.57 159.47,399.57 160.20,399.57 160.94,399.57 161.67,399.57 162.41,399.57 163.15,399.58 163.88,399.58 164.62,399.58 165.35,399.58 166.09,399.58 166.82,399.58 167.56,399.58 168.29,399.58 169.03,399.58 169.76,399.58 170.50,399.58 171.24,399.58 171.97,399.58 172.71,399.59 173.44,399.59 174.18,399.59 174.91,399.59 175.65,399.59 176.38,399.59 177.12,399.59 177.85,399.59 178.59,399.59 179.32,399.59 180.06,399.59 180.80,399.59 181.53,399.59 182.27,399.59 183.00,399.59 183.74,399.59 184.47,399.59 185.21,399.59 185.94,399.59 186.68,399.59 187.41,399.59 188.15,399.59 188.89,399.59" fill="none" stroke="#4a5ed0" stroke-width="0.9" stroke-dasharray="3,2"/>
<polyline points="41.96,292.66 42.46,301.16 42.96,308.98 43.45,316.18 43.95,322.80 44.44,328.90 44.94,334.52 45.43,339.69 45.93,344.45 46.42,348.83 46.92,352.86 47.41,356.58 47.91,360.00 48.40,363.14 48.90,366.04 49.39,368.70 49.89,371.16 50.38,373.42 50.88,375.50 51.38,377.41 51.87,379.18 52.37,380.80 52.86,382.29 53.36,383.67 53.85,384.93 54.35,386.10 54.84,387.17 55.34,388.16 55.83,389.07 56.33,389.90 56.82,390.67 57.32,391.38 57.81,392.04 58.31,392.64 58.80,393.19 59.30,393.70 59.79,394.17 60.29,394.60 60.79,395.00 61.28,395.36 61.78,395.70 62.27,396.01 62.77,396.29 63.26,396.56 63.76,396.80 64.25,397.02 64.75,397.23 65.24,397.41 65.74,397.59 66.23,397.75 66.73,397.90 67.22,398.03 67.72,398.16 68.21,398.27 68.71,398.38 69.20,398.47 69.70,398.56 70.20,398.65 70.69,398.72 71.19,398.79 71.68,398.86 72.18,398.91 72.67,398.97 73.17,399.02 73.66,399.07 74.16,399.11 74.65,399.15 75.15,399.18 75.64,399.22 76.14,399.25 76.63,399.27 77.13,399.30 77.62,399.32 78.12,399.35 78.62,399.37 79.11,399.38 79.61,399.40 80.10,399.42 80.60,399.43 81.09,399.45 81.59,399.46 82.08,399.47 82.58,399.48 83.07,399.49 83.57,399.50 84.06,399.51 84.56,399.51 85.05,399.52 85.55,399.53 86.04,399.53 86.54,399.54 87.03,399.54 87.53,399.55 88.03,399.55 88.52,399.56 89.02,399.56 89.51,399.56 90.01,399.57 90.50,399.57 91.00,399.57 91.49,399.57 91.99,399.57 92.48,399.58 92.98,399.58 93.47,399.58 93.97,399.58 94.46,399.58 94.96,399.58 95.45,399.59 95.95,399.59 96.45,399.59 96.94,399.59 97.44,399.59 97.93,399.59 98.43,399.59 98.92,399.59 99.42,399.59 99.91,399.59 100.41,399.59 100.90,399.59 101.40,399.59 101.89,399.60 102.39,399.60 102.88,399.60 103.38,399.60 103.87,399.60 104.37,399.60 104.86,399.60 105.36,399.60 105.86,399.60 106.35,399.60 106.85,399.60 107.34,399.60 107.84,399.60 108.33,399.60 108.83,399.60 109.32,399.60 109.82,399.60 110.31,399.60 110.81,399.60 111.30,399.60 111.80,399.60 112.29,399.60 112.79,399.60 113.28,399.60 113.78,399.60 114.28,399.60 114.77,399.60 115.27,399.60 115.76,399.60 116.26,399.60 116.75,399.60 117.25,399.60 117.74,399.60 118.24,399.60 118.73,399.60 119.23,399.60 119.72,399.60 120.22,399.60 120.71,399.60 121.21,399.60 121.70,399.60 122.20,399.60 122.69,399.60 123.19,399.60 123.69,399.60 124.18,399.60 124.68,399.60 125.17,399.60 125.67,399.60 126.16,399.60 126.66,399.60 127.15,399.60 127.65,399.60 128.14,399.60 128.64,399.60 129.13,399.60 129.63,399.60 130.12,399.60 130.62,399.60 131.11,399.60 131.61,399.60 132.11,399.60 132.60,399.60 133.10,399.60 133.59,399.60 134.09,399.60 134.58,399.60 135.08,399.60 135.57,399.60 136.07,399.60 136.56,399.60 137.06,399.60 137.55,399.60 138.05,399.60 138.54,399.60 139.04,399.60 139.53,399.60 140.03,399.60 140.52,399.60 141.02,399.60" fill="none" stroke="#5cc040" stroke-width="0.9"/>
<g fill="none" stroke="#3a3a3a" stroke-width="0.7"><circle cx="42.80" cy="286.22" r="1.5"/><circle cx="43.13" cy="293.16" r="1.5"/><circle cx="43.46" cy="300.10" r="1.5"/><circle cx="43.79" cy="305.83" r="1.5"/><circle cx="44.13" cy="313.52" r="1.5"/><circle cx="44.46" cy="318.09" r="1.5"/><circle cx="44.79" cy="328.69" r="1.5"/><circle cx="45.12" cy="330.86" r="1.5"/><circle cx="45.45" cy="332.76" r="1.5"/><circle cx="45.79" cy="338.37" r="1.5"/><circle cx="46.12" cy="340.99" r="1.5"/><circle cx="46.45" cy="347.89" r="1.5"/><circle cx="46.78" cy="349.53" r="1.5"/><circle cx="47.12" cy="353.28" r="1.5"/><circle cx="47.45" cy="354.87" r="1.5"/><circle cx="47.78" cy="357.27" r="1.5"/><circle cx="48.11" cy="361.37" r="1.5"/><circle cx="48.45" cy="362.81" r="1.5"/><circle cx="48.78" cy="364.56" r="1.5"/><circle cx="49.11" cy="364.64" r="1.5"/><circle cx="49.44" cy="366.78" r="1.5"/><circle cx="49.78" cy="369.87" r="1.5"/><circle cx="50.11" cy="369.81" r="1.5"/><circle cx="50.44" cy="372.66" r="1.5"/><circle cx="50.77" cy="372.88" r="1.5"/><circle cx="51.11" cy="375.06" r="1.5"/><circle cx="51.44" cy="376.37" r="1.5"/><circle cx="51.77" cy="375.74" r="1.5"/><circle cx="52.10" cy="377.90" r="1.5"/><circle cx="52.44" cy="378.77" r="1.5"/><circle cx="52.77" cy="378.33" r="1.5"/><circle cx="53.10" cy="379.32" r="1.5"/><circle cx="53.43" cy="380.96" r="1.5"/><circle cx="53.77" cy="380.66" r="1.5"/><circle cx="54.10" cy="381.93" r="1.5"/><circle cx="54.43" cy="382.35" r="1.5"/><circle cx="54.76" cy="383.56" r="1.5"/><circle cx="55.09" cy="383.16" r="1.5"/><circle cx="55.43" cy="384.00" r="1.5"/><circle cx="55.76" cy="384.16" r="1.5"/><circle cx="56.09" cy="384.72" r="1.5"/><circle cx="56.42" cy="385.84" r="1.5"/><circle cx="56.76" cy="386.18" r="1.5"/><circle cx="57.09" cy="386.77" r="1.5"/><circle cx="57.42" cy="387.16" r="1.5"/><circle cx="57.75" cy="387.58" r="1.5"/><circle cx="58.09" cy="387.68" r="1.5"/><circle cx="58.42" cy="387.72" r="1.5"/><circle cx="58.75" cy="388.58" r="1.5"/><circle cx="59.08" cy="388.26" r="1.5"/><circle cx="59.42" cy="388.85" r="1.5"/><circle cx="59.75" cy="389.14" r="1.5"/><circle cx="60.08" cy="388.98" r="1.5"/><circle cx="60.41" cy="389.51" r="1.5"/><circle cx="60.75" cy="389.88" r="1.5"/><circle cx="61.08" cy="389.98" r="1.5"/><circle cx="61.41" cy="390.04" r="1.5"/><circle cx="61.74" cy="390.74" r="1.5"/><circle cx="62.07" cy="390.28" r="1.5"/><circle cx="62.41" cy="391.16" r="1.5"/><circle cx="62.74" cy="390.85" r="1.5"/><circle cx="63.07" cy="390.98" r="1.5"/><circle cx="63.40" cy="391.71" r="1.5"/><circle cx="63.74" cy="391.38" r="1.5"/><circle cx="64.07" cy="391.83" r="1.5"/><circle cx="64.40" cy="391.86" r="1.5"/><circle cx="64.73" cy="392.37" r="1.5"/><circle cx="65.07" cy="392.50" r="1.5"/><circle cx="65.40" cy="392.57" r="1.5"/><circle cx="65.73" cy="392.28" r="1.5"/><circle cx="66.06" cy="392.85" r="1.5"/><circle cx="66.40" cy="392.68" r="1.5"/><circle cx="66.73" cy="392.73" r="1.5"/><circle cx="67.06" cy="392.87" r="1.5"/><circle cx="67.39" cy="393.31" r="1.5"/><circle cx="67.73" cy="393.43" r="1.5"/><circle cx="68.06" cy="393.47" r="1.5"/><circle cx="68.39" cy="393.47" r="1.5"/><circle cx="68.72" cy="393.91" r="1.5"/><circle cx="69.06" cy="393.72" r="1.5"/><circle cx="69.39" cy="393.82" r="1.5"/><circle cx="69.72" cy="393.90" r="1.5"/><circle cx="70.05" cy="394.37" r="1.5"/><circle cx="70.38" cy="394.09" r="1.5"/><circle cx="70.72" cy="394.55" r="1.5"/><circle cx="71.05" cy="394.55" r="1.5"/><circle cx="71.38" cy="394.54" r="1.5"/><circle cx="71.71" cy="394.52" r="1.5"/><circle cx="72.05" cy="394.84" r="1.5"/><circle cx="72.38" cy="394.71" r="1.5"/><circle cx="72.71" cy="394.94" r="1.5"/><circle cx="73.04" cy="395.12" r="1.5"/><circle cx="73.38" cy="395.20" r="1.5"/><circle cx="73.71" cy="395.34" r="1.5"/><circle cx="74.04" cy="395.45" r="1.5"/><circle cx="74.37" cy="395.51" r="1.5"/><circle cx="74.71" cy="395.41" r="1.5"/><circle cx="75.04" cy="395.39" r="1.5"/><circle cx="75.37" cy="395.73" r="1.5"/><circle cx="75.70" cy="395.84" r="1.5"/><circle cx="76.04" cy="395.63" r="1.5"/><circle cx="76.37" cy="395.84" r="1.5"/><circle cx="76.70" cy="395.95" r="1.5"/><circle cx="77.03" cy="396.07" r="1.5"/><circle cx="77.37" cy="396.03" r="1.5"/><circle cx="77.70" cy="396.04" r="1.5"/><circle cx="78.03" cy="396.21" r="1.5"/><circle cx="78.36" cy="396.28" r="1.5"/><circle cx="78.69" cy="396.44" r="1.5"/><circle cx="79.03" cy="396.28" r="1.5"/><circle cx="79.36" cy="396.56" r="1.5"/><circle cx="79.69" cy="396.51" r="1.5"/><circle cx="80.02" cy="396.48" r="1.5"/><circle cx="80.36" cy="396.71" r="1.5"/><circle cx="80.69" cy="396.62" r="1.5"/><circle cx="81.02" cy="396.63" r="1.5"/><circle cx="81.35" cy="396.76" r="1.5"/><circle cx="81.69" cy="396.78" r="1.5"/><circle cx="82.02" cy="396.98" r="1.5"/><circle cx="82.35" cy="396.96" r="1.5"/><circle cx="82.68" cy="397.07" r="1.5"/><circle cx="83.02" cy="396.97" r="1.5"/><circle cx="83.35" cy="397.13" r="1.5"/><circle cx="83.68" cy="397.15" r="1.5"/><circle cx="84.01" cy="397.09" r="1.5"/><circle cx="84.35" cy="397.17" r="1.5"/><circle cx="84.68" cy="397.19" r="1.5"/><circle cx="85.01" cy="397.33" r="1.5"/><circle cx="85.34" cy="397.37" r="1.5"/><circle cx="85.68" cy="397.37" r="1.5"/><circle cx="86.01" cy="397.45" r="1.5"/><circle cx="86.34" cy="397.52" r="1.5"/><circle cx="86.67" cy="397.54" r="1.5"/><circle cx="87.00" cy="397.62" r="1.5"/><circle cx="87.34" cy="397.63" r="1.5"/><circle cx="87.67" cy="397.57" r="1.5"/><circle cx="88.00" cy="397.61" r="1.5"/><circle cx="88.33" cy="397.70" r="1.5"/><circle cx="88.67" cy="397.75" r="1.5"/><circle cx="89.00" cy="397.81" r="1.5"/><circle cx="89.33" cy="397.88" r="1.5"/><circle cx="89.66" cy="397.89" r="1.5"/><circle cx="90.00" cy="397.85" r="1.5"/><circle cx="90.33" cy="397.87" r="1.5"/><circle cx="90.66" cy="397.97" r="1.5"/><circle cx="90.99" cy="397.95" r="1.5"/><circle cx="91.33" cy="397.98" r="1.5"/><circle cx="91.66" cy="398.02" r="1.5"/><circle cx="91.99" cy="398.05" r="1.5"/><circle cx="92.32" cy="398.07" r="1.5"/><circle cx="92.66" cy="398.15" r="1.5"/><circle cx="92.99" cy="398.13" r="1.5"/><circle cx="93.32" cy="398.21" r="1.5"/><circle cx="93.65" cy="398.21" r="1.5"/><circle cx="93.99" cy="398.21" r="1.5"/><circle cx="94.32" cy="398.24" r="1.5"/><circle cx="94.65" cy="398.31" r="1.5"/><circle cx="94.98" cy="398.27" r="1.5"/><circle cx="95.31" cy="398.32" r="1.5"/><circle cx="95.65" cy="398.35" r="1.5"/><circle cx="95.98" cy="398.43" r="1.5"/><circle cx="96.31" cy="398.40" r="1.5"/><circle cx="96.64" cy="398.45" r="1.5"/><circle cx="96.98" cy="398.44" r="1.5"/><circle cx="97.31" cy="398.48" r="1.5"/><circle cx="97.64" cy="398.47" r="1.5"/><circle cx="97.97" cy="398.50" r="1.5"/><circle cx="98.31" cy="398.51" r="1.5"/><circle cx="98.64" cy="398.57" r="1.5"/><circle cx="98.97" cy="398.56" r="1.5"/><circle cx="99.30" cy="398.58" r="1.5"/><circle cx="99.64" cy="398.59" r="1.5"/><circle cx="99.97" cy="398.64" r="1.5"/><circle cx="100.30" cy="398.63" r="1.5"/><circle cx="100.63" cy="398.64" r="1.5"/><circle cx="100.97" cy="398.67" r="1.5"/><circle cx="101.30" cy="398.67" r="1.5"/><circle cx="101.63" cy="398.69" r="1.5"/><circle cx="101.96" cy="398.74" r="1.5"/><circle cx="102.30" cy="398.75" r="1.5"/><circle cx="102.63" cy="398.79" r="1.5"/><circle cx="102.96" cy="398.76" r="1.5"/><circle cx="103.29" cy="398.77" r="1.5"/><circle cx="103.62" cy="398.82" r="1.5"/><circle cx="103.96" cy="398.82" r="1.5"/><circle cx="104.29" cy="398.83" r="1.5"/><circle cx="104.62" cy="398.85" r="1.5"/><circle cx="104.95" cy="398.89" r="1.5"/><circle cx="105.29" cy="398.87" r="1.5"/><circle cx="105.62" cy="398.90" r="1.5"/><circle cx="105.95" cy="398.90" r="1.5"/><circle cx="106.28" cy="398.93" r="1.5"/><circle cx="106.62" cy="398.93" r="1.5"/><circle cx="106.95" cy="398.94" r="1.5"/><circle cx="107.28" cy="398.96" r="1.5"/><circle cx="107.61" cy="398.97" r="1.5"/><circle cx="107.95" cy="399.01" r="1.5"/><circle cx="108.28" cy="399.02" r="1.5"/><circle cx="108.61" cy="399.01" r="1.5"/><circle cx="108.94" cy="399.01" r="1.5"/><circle cx="109.28" cy="399.05" r="1.5"/><circle cx="109.61" cy="399.04" r="1.5"/><circle cx="109.94" cy="399.05" r="1.5"/><circle cx="110.27" cy="399.08" r="1.5"/><circle cx="110.61" cy="399.08" r="1.5"/><circle cx="110.94" cy="399.10" r="1.5"/><circle cx="111.27" cy="399.11" r="1.5"/><circle cx="111.60" cy="399.12" r="1.5"/><circle cx="111.94" cy="399.12" r="1.5"/><circle cx="112.27" cy="399.13" r="1.5"/><circle cx="112.60" cy="399.14" r="1.5"/><circle cx="112.93" cy="399.16" r="1.5"/><circle cx="113.26" cy="399.15" r="1.5"/><circle cx="113.60" cy="399.16" r="1.5"/><circle cx="113.93" cy="399.16" r="1.5"/><circle cx="114.26" cy="399.17" r="1.5"/><circle cx="114.59" cy="399.19" r="1.5"/><circle cx="114.93" cy="399.18" r="1.5"/><circle cx="115.26" cy="399.21" r="1.5"/><circle cx="115.59" cy="399.21" r="1.5"/><circle cx="115.92" cy="399.22" r="1.5"/><circle cx="116.26" cy="399.22" r="1.5"/><circle cx="116.59" cy="399.24" r="1.5"/><circle cx="116.92" cy="399.22" r="1.5"/><circle cx="117.25" cy="399.24" r="1.5"/><circle cx="117.59" cy="399.26" r="1.5"/><circle cx="117.92" cy="399.25" r="1.5"/><circle cx="118.25" cy="399.27" r="1.5"/><circle cx="118.58" cy="399.27" r="1.5"/><circle cx="118.92" cy="399.28" r="1.5"/><circle cx="119.25" cy="399.28" r="1.5"/><circle cx="119.58" cy="399.27" r="1.5"/><circle cx="119.91" cy="399.28" r="1.5"/><circle cx="120.25" cy="399.30" r="1.5"/><circle cx="120.58" cy="399.30" r="1.5"/><circle cx="120.91" cy="399.31" r="1.5"/><circle cx="121.24" cy="399.32" r="1.5"/><circle cx="121.57" cy="399.33" r="1.5"/><circle cx="121.91" cy="399.32" r="1.5"/><circle cx="122.24" cy="399.33" r="1.5"/><circle cx="122.57" cy="399.33" r="1.5"/><circle cx="122.90" cy="399.33" r="1.5"/><circle cx="123.24" cy="399.34" r="1.5"/><circle cx="123.57" cy="399.35" r="1.5"/><circle cx="123.90" cy="399.35" r="1.5"/><circle cx="124.23" cy="399.37" r="1.5"/><circle cx="124.57" cy="399.37" r="1.5"/><circle cx="124.90" cy="399.37" r="1.5"/><circle cx="125.23" cy="399.37" r="1.5"/><circle cx="125.56" cy="399.38" r="1.5"/><circle cx="125.90" cy="399.38" r="1.5"/><circle cx="126.23" cy="399.38" r="1.5"/><circle cx="126.56" cy="399.39" r="1.5"/><circle cx="126.89" cy="399.39" r="1.5"/><circle cx="127.23" cy="399.40" r="1.5"/><circle cx="127.56" cy="399.40" r="1.5"/><circle cx="127.89" cy="399.40" r="1.5"/><circle cx="128.22" cy="399.41" r="1.5"/><circle cx="128.56" cy="399.41" r="1.5"/><circle cx="128.89" cy="399.41" r="1.5"/><circle cx="129.22" cy="399.42" r="1.5"/><circle cx="129.55" cy="399.43" r="1.5"/><circle cx="129.88" cy="399.42" r="1.5"/><circle cx="130.22" cy="399.43" r="1.5"/><circle cx="130.55" cy="399.43" r="1.5"/><circle cx="130.88" cy="399.44" r="1.5"/><circle cx="131.21" cy="399.43" r="1.5"/><circle cx="131.55" cy="399.44" r="1.5"/><circle cx="131.88" cy="399.45" r="1.5"/><circle cx="132.21" cy="399.45" r="1.5"/><circle cx="132.54" cy="399.46" r="1.5"/><circle cx="132.88" cy="399.45" r="1.5"/><circle cx="133.21" cy="399.46" r="1.5"/><circle cx="133.54" cy="399.46" r="1.5"/><circle cx="133.87" cy="399.46" r="1.5"/><circle cx="134.21" cy="399.46" r="1.5"/><circle cx="134.54" cy="399.47" r="1.5"/><circle cx="134.87" cy="399.47" r="1.5"/><circle cx="135.20" cy="399.47" r="1.5"/><circle cx="135.54" cy="399.47" r="1.5"/><circle cx="135.87" cy="399.47" r="1.5"/><circle cx="136.20" cy="399.48" r="1.5"/><circle cx="136.53" cy="399.48" r="1.5"/><circle cx="136.87" cy="399.49" r="1.5"/><circle cx="137.20" cy="399.48" r="1.5"/><circle cx="137.53" cy="399.49" r="1.5"/><circle cx="137.86" cy="399.49" r="1.5"/><circle cx="138.19" cy="399.49" r="1.5"/><circle cx="138.53" cy="399.49" r="1.5"/><circle cx="138.86" cy="399.50" r="1.5"/><circle cx="139.19" cy="399.50" r="1.5"/><circle cx="139.52" cy="399.50" r="1.5"/><circle cx="139.86" cy="399.50" r="1.5"/><circle cx="140.19" cy="399.51" r="1.5"/><circle cx="140.52" cy="399.51" r="1.5"/><circle cx="140.85" cy="399.51" r="1.5"/><circle cx="141.19" cy="399.51" r="1.5"/><circle cx="141.52" cy="399.51" r="1.5"/><circle cx="141.85" cy="399.51" r="1.5"/><circle cx="142.18" cy="399.51" r="1.5"/><circle cx="142.52" cy="399.51" r="1.5"/><circle cx="142.85" cy="399.52" r="1.5"/><circle cx="143.18" cy="399.52" r="1.5"/><circle cx="143.51" cy="399.52" r="1.5"/><circle cx="143.85" cy="399.52" r="1.5"/><circle cx="144.18" cy="399.52" r="1.5"/><circle cx="144.51" cy="399.52" r="1.5"/><circle cx="144.84" cy="399.53" r="1.5"/><circle cx="145.18" cy="399.53" r="1.5"/><circle cx="145.51" cy="399.53" r="1.5"/><circle cx="145.84" cy="399.53" r="1.5"/><circle cx="146.17" cy="399.53" r="1.5"/><circle cx="146.50" cy="399.53" r="1.5"/><circle cx="146.84" cy="399.53" r="1.5"/><circle cx="147.17" cy="399.54" r="1.5"/><circle cx="147.50" cy="399.53" r="1.5"/><circle cx="147.83" cy="399.54" r="1.5"/><circle cx="148.17" cy="399.54" r="1.5"/><circle cx="148.50" cy="399.54" r="1.5"/><circle cx="148.83" cy="399.54" r="1.5"/><circle cx="149.16" cy="399.54" r="1.5"/><circle cx="149.50" cy="399.54" r="1.5"/><circle cx="149.83" cy="399.55" r="1.5"/><circle cx="150.16" cy="399.54" r="1.5"/><circle cx="150.49" cy="399.55" r="1.5"/><circle cx="150.83" cy="399.55" r="1.5"/><circle cx="151.16" cy="399.55" r="1.5"/><circle cx="151.49" cy="399.55" r="1.5"/><circle cx="151.82" cy="399.55" r="1.5"/><circle cx="152.16" cy="399.55" r="1.5"/><circle cx="152.49" cy="399.55" r="1.5"/><circle cx="152.82" cy="399.55" r="1.5"/><circle cx="153.15" cy="399.55" r="1.5"/><circle cx="153.49" cy="399.56" r="1.5"/><circle cx="153.82" cy="399.56" r="1.5"/><circle cx="154.15" cy="399.56" r="1.5"/><circle cx="154.48" cy="399.56" r="1.5"/><circle cx="154.81" cy="399.56" r="1.5"/><circle cx="155.15" cy="399.56" r="1.5"/><circle cx="155.48" cy="399.56" r="1.5"/><circle cx="155.81" cy="399.56" r="1.5"/><circle cx="156.14" cy="399.56" r="1.5"/><circle cx="156.48" cy="399.56" r="1.5"/><circle cx="156.81" cy="399.56" r="1.5"/><circle cx="157.14" cy="399.56" r="1.5"/><circle cx="157.47" cy="399.56" r="1.5"/><circle cx="157.81" cy="399.56" r="1.5"/><circle cx="158.14" cy="399.57" r="1.5"/><circle cx="158.47" cy="399.57" r="1.5"/><circle cx="158.80" cy="399.57" r="1.5"/><circle cx="159.14" cy="399.57" r="1.5"/><circle cx="159.47" cy="399.57" r="1.5"/><circle cx="159.80" cy="399.57" r="1.5"/><circle cx="160.13" cy="399.57" r="1.5"/><circle cx="160.47" cy="399.57" r="1.5"/><circle cx="160.80" cy="399.57" r="1.5"/><circle cx="161.13" cy="399.57" r="1.5"/><circle cx="161.46" cy="399.57" r="1.5"/><circle cx="161.80" cy="399.57" r="1.5"/><circle cx="162.13" cy="399.57" r="1.5"/><circle cx="162.46" cy="399.57" r="1.5"/><circle cx="162.79" cy="399.57" r="1.5"/><circle cx="163.12" cy="399.57" r="1.5"/><circle cx="163.46" cy="399.57" r="1.5"/><circle cx="163.79" cy="399.58" r="1.5"/><circle cx="164.12" cy="399.58" r="1.5"/><circle cx="164.45" cy="399.58" r="1.5"/><circle cx="164.79" cy="399.58" r="1.5"/><circle cx="165.12" cy="399.58" r="1.5"/><circle cx="165.45" cy="399.58" r="1.5"/><circle cx="165.78" cy="399.58" r="1.5"/><circle cx="166.12" cy="399.58" r="1.5"/><circle cx="166.45" cy="399.58" r="1.5"/><circle cx="166.78" cy="399.58" r="1.5"/><circle cx="167.11" cy="399.58" r="1.5"/><circle cx="167.45" cy="399.58" r="1.5"/><circle cx="167.78" cy="399.58" r="1.5"/><circle cx="168.11" cy="399.58" r="1.5"/><circle cx="168.44" cy="399.58" r="1.5"/><circle cx="168.78" cy="399.58" r="1.5"/><circle cx="169.11" cy="399.58" r="1.5"/><circle cx="169.44" cy="399.58" r="1.5"/><circle cx="169.77" cy="399.58" r="1.5"/><circle cx="170.11" cy="399.58" r="1.5"/><circle cx="170.44" cy="399.58" r="1.5"/><circle cx="170.77" cy="399.58" r="1.5"/><circle cx="171.10" cy="399.58" r="1.5"/><circle cx="171.43" cy="399.58" r="1.5"/><circle cx="171.77" cy="399.58" r="1.5"/><circle cx="172.10" cy="399.58" r="1.5"/><circle cx="172.43" cy="399.59" r="1.5"/><circle cx="172.76" cy="399.59" r="1.5"/><circle cx="173.10" cy="399.59" r="1.5"/><circle cx="173.43" cy="399.59" r="1.5"/><circle cx="173.76" cy="399.59" r="1.5"/><circle cx="174.09" cy="399.59" r="1.5"/><circle cx="174.43" cy="399.59" r="1.5"/><circle cx="174.76" cy="399.59" r="1.5"/><circle cx="175.09" cy="399.59" r="1.5"/><circle cx="175.42" cy="399.59" r="1.5"/><circle cx="175.76" cy="399.59" r="1.5"/><circle cx="176.09" cy="399.59" r="1.5"/><circle cx="176.42" cy="399.59" r="1.5"/><circle cx="176.75" cy="399.59" r="1.5"/><circle cx="177.09" cy="399.59" r="1.5"/><circle cx="177.42" cy="399.59" r="1.5"/><circle cx="177.75" cy="399.59" r="1.5"/><circle cx="178.08" cy="399.59" r="1.5"/><circle cx="178.42" cy="399.59" r="1.5"/><circle cx="178.75" cy="399.59" r="1.5"/><circle cx="179.08" cy="399.59" r="1.5"/><circle cx="179.41" cy="399.59" r="1.5"/><circle cx="179.74" cy="399.59" r="1.5"/><circle cx="180.08" cy="399.59" r="1.5"/><circle cx="180.41" cy="399.59" r="1.5"/><circle cx="180.74" cy="399.59" r="1.5"/><circle cx="181.07" cy="399.59" r="1.5"/><circle cx="181.41" cy="399.59" r="1.5"/><circle cx="181.74" cy="399.59" r="1.5"/><circle cx="182.07" cy="399.59" r="1.5"/><circle cx="182.40" cy="399.59" r="1.5"/><circle cx="182.74" cy="399.59" r="1.5"/><circle cx="183.07" cy="399.59" r="1.5"/><circle cx="183.40" cy="399.59" r="1.5"/><circle cx="183.73" cy="399.59" r="1.5"/><circle cx="184.07" cy="399.59" r="1.5"/><circle cx="184.40" cy="399.59" r="1.5"/><circle cx="184.73" cy="399.59" r="1.5"/><circle cx="185.06" cy="399.59" r="1.5"/><circle cx="185.40" cy="399.59" r="1.5"/><circle cx="185.73" cy="399.59" r="1.5"/><circle cx="186.06" cy="399.59" r="1.5"/><circle cx="186.39" cy="399.59" r="1.5"/><circle cx="186.73" cy="399.59" r="1.5"/><circle cx="187.06" cy="399.59" r="1.5"/><circle cx="187.39" cy="399.59" r="1.5"/><circle cx="187.72" cy="399.59" r="1.5"/><circle cx="188.05" cy="399.59" r="1.5"/><circle cx="188.39" cy="399.59" r="1.5"/><circle cx="188.72" cy="399.59" r="1.5"/></g>
<polyline points="45.62,348.63 45.72,349.50 45.81,350.35 45.90,351.18 46.00,351.99 46.09,352.79 46.19,353.56 46.28,354.32 46.37,355.06 46.47,355.79 46.56,356.50 46.66,357.19 46.75,357.87 46.85,358.54 46.94,359.19 47.03,359.82 47.13,360.44 47.22,361.05 47.32,361.65 47.41,362.23 47.50,362.80 47.60,363.35 47.69,363.90 47.79,364.43 47.88,364.96 47.98,365.47 48.07,365.97 48.16,366.46 48.26,366.94 48.35,367.41 48.45,367.87 48.54,368.32 48.63,368.76 48.73,369.19 48.82,369.61 48.92,370.03 49.01,370.43 49.11,370.83 49.20,371.22 49.29,371.60 49.39,371.97 49.48,372.34 49.58,372.70 49.67,373.05 49.77,373.39 49.86,373.73 49.95,374.06 50.05,374.38 50.14,374.70 50.24,375.01 50.33,375.32 50.42,375.62 50.52,375.91 50.61,376.20 50.71,376.48 50.80,376.76 50.90,377.03 50.99,377.30 51.08,377.56 51.18,377.81 51.27,378.07" fill="none" stroke="#111" stroke-width="2.6" stroke-linecap="round"/>
<polyline points="49.61,372.82 50.07,374.47 50.54,375.97 51.00,377.33 51.47,378.57 51.93,379.70 52.40,380.74 52.86,381.68 53.32,382.55 53.79,383.35 54.25,384.09 54.72,384.77 55.18,385.40 55.65,385.99 56.11,386.53 56.57,387.04 57.04,387.52 57.50,387.97 57.97,388.39 58.43,388.79 58.90,389.16 59.36,389.51 59.82,389.85 60.29,390.17 60.75,390.47 61.22,390.76 61.68,390.79 62.14,391.06 62.61,391.32 63.07,391.57 63.54,391.81 64.00,392.04 64.47,392.26 64.93,392.47 65.39,392.68 65.86,392.88 66.32,393.07 66.79,393.25 67.25,393.43 67.72,393.60 68.18,393.76 68.64,393.93 69.11,394.08 69.57,394.23 70.04,394.38 70.50,394.52 70.97,394.66 71.43,394.79 71.89,394.92 72.36,395.04 72.82,395.17 73.29,395.29 73.75,395.40 74.22,395.51 74.68,395.62 75.14,395.73 75.61,395.83 76.07,395.93 76.54,396.03 77.00,396.12 77.47,396.21 77.93,396.30 78.39,396.39 78.86,396.48 79.32,396.56 79.79,396.64 80.25,396.72 80.71,396.79 81.18,396.87 81.64,396.94 82.11,397.01 82.57,397.08 83.04,397.14 83.50,397.21 83.96,397.27 84.43,397.33 84.89,397.39 85.36,397.45 85.82,397.51 86.29,397.56 86.75,397.61 87.21,397.67 87.68,397.72 88.14,397.77 88.61,397.81 89.07,397.86 89.54,397.91 90.00,397.95 90.46,398.00 90.93,398.04 91.39,398.08 91.86,398.12 92.32,398.16 92.79,398.20 93.25,398.23 93.71,398.27 94.18,398.30 94.64,398.34 95.11,398.37 95.57,398.40 96.04,398.43 96.50,398.46 96.96,398.49 97.43,398.52 97.89,398.55 98.36,398.58 98.82,398.61 99.28,398.63 99.75,398.66 100.21,398.68 100.68,398.71 101.14,398.73 101.61,398.75 102.07,398.77 102.53,398.80 103.00,398.82 103.46,398.84 103.93,398.86 104.39,398.88 104.86,398.90 105.32,398.92 105.78,398.93 106.25,398.95 106.71,398.97 107.18,398.98 107.64,399.00 108.11,399.02 108.57,399.03 109.03,399.05 109.50,399.06 109.96,399.08 110.43,399.09 110.89,399.10 111.36,399.12 111.82,399.13 112.28,399.14 112.75,399.15 113.21,399.16 113.68,399.18 114.14,399.19 114.61,399.20 115.07,399.21 115.53,399.22 116.00,399.23 116.46,399.24 116.93,399.25 117.39,399.26 117.86,399.27 118.32,399.27 118.78,399.28 119.25,399.29 119.71,399.30 120.18,399.31 120.64,399.32 121.10,399.32 121.57,399.33 122.03,399.34 122.50,399.34 122.96,399.35 123.43,399.36 123.89,399.36 124.35,399.37 124.82,399.38 125.28,399.38 125.75,399.39 126.21,399.39 126.68,399.40 127.14,399.40 127.60,399.41 128.07,399.41 128.53,399.42 129.00,399.42 129.46,399.43 129.93,399.43 130.39,399.44 130.85,399.44 131.32,399.45 131.78,399.45 132.25,399.45 132.71,399.46 133.18,399.46 133.64,399.46 134.10,399.47 134.57,399.47 135.03,399.48 135.50,399.48 135.96,399.48 136.43,399.48 136.89,399.49 137.35,399.49 137.82,399.49 138.28,399.50 138.75,399.50 139.21,399.50 139.67,399.50 140.14,399.51 140.60,399.51 141.07,399.51 141.53,399.51 142.00,399.52 142.46,399.52 142.92,399.52 143.39,399.52 143.85,399.52 144.32,399.53 144.78,399.53 145.25,399.53 145.71,399.53 146.17,399.53 146.64,399.54 147.10,399.54 147.57,399.54 148.03,399.54 148.50,399.54 148.96,399.54 149.42,399.55 149.89,399.55 150.35,399.55 150.82,399.55 151.28,399.55 151.75,399.55 152.21,399.55 152.67,399.55 153.14,399.56 153.60,399.56 154.07,399.56 154.53,399.56 155.00,399.56 155.46,399.56 155.92,399.56 156.39,399.56 156.85,399.56 157.32,399.57 157.78,399.57 158.24,399.57 158.71,399.57 159.17,399.57 159.64,399.57 160.10,399.57 160.57,399.57 161.03,399.57 161.49,399.57 161.96,399.57 162.42,399.57 162.89,399.57 163.35,399.58 163.82,399.58 164.28,399.58 164.74,399.58 165.21,399.58 165.67,399.58 166.14,399.58 166.60,399.58 167.07,399.58 167.53,399.58 167.99,399.58 168.46,399.58 168.92,399.58 169.39,399.58 169.85,399.58 170.32,399.58 170.78,399.58 171.24,399.58 171.71,399.58 172.17,399.59 172.64,399.59 173.10,399.59 173.57,399.59 174.03,399.59 174.49,399.59 174.96,399.59 175.42,399.59 175.89,399.59 176.35,399.59 176.82,399.59 177.28,399.59 177.74,399.59 178.21,399.59 178.67,399.59 179.14,399.59 179.60,399.59 180.06,399.59 180.53,399.59 180.99,399.59 181.46,399.59 181.92,399.59 182.39,399.59 182.85,399.59 183.31,399.59 183.78,399.59 184.24,399.59 184.71,399.59 185.17,399.59 185.64,399.59 186.10,399.59 186.56,399.59 187.03,399.59 187.49,399.59 187.96,399.59 188.42,399.59 188.89,399.59" fill="none" stroke="#111" stroke-width="3.3" stroke-linecap="round"/>
<polyline points="54.60,387.07 55.27,387.54 55.94,388.00 56.61,388.44 57.28,388.86 57.95,389.26 58.62,389.65 59.30,390.03 59.97,390.39 60.64,390.74 61.31,391.07 61.98,391.39 62.65,391.70 63.32,392.00 64.00,392.29 64.67,392.56 65.34,392.83 66.01,393.08 66.68,393.33 67.35,393.57 68.02,393.80 68.70,394.01 69.37,394.23 70.04,394.43 70.71,394.62 71.38,394.81 72.05,394.99 72.73,395.17 73.40,395.33 74.07,395.49 74.74,395.65 75.41,395.80 76.08,395.94 76.75,396.08 77.43,396.21 78.10,396.34 78.77,396.46 79.44,396.58 80.11,396.70 80.78,396.81 81.45,396.91 82.13,397.01 82.80,397.11 83.47,397.20 84.14,397.29 84.81,397.38 85.48,397.47 86.15,397.55 86.83,397.62 87.50,397.70 88.17,397.77 88.84,397.84 89.51,397.91 90.18,397.97 90.85,398.03 91.53,398.09 92.20,398.15 92.87,398.20 93.54,398.25 94.21,398.31 94.88,398.35 95.55,398.40 96.23,398.45 96.90,398.49 97.57,398.53 98.24,398.57 98.91,398.61 99.58,398.65 100.25,398.68 100.93,398.72 101.60,398.75 102.27,398.78 102.94,398.82 103.61,398.84 104.28,398.87 104.95,398.90 105.63,398.93 106.30,398.95 106.97,398.98 107.64,399.00 108.31,399.02 108.98,399.04 109.65,399.07 110.33,399.09 111.00,399.11 111.67,399.12 112.34,399.14 113.01,399.16 113.68,399.18 114.35,399.19 115.03,399.21 115.70,399.22 116.37,399.24 117.04,399.25 117.71,399.26 118.38,399.28 119.06,399.29 119.73,399.30 120.40,399.31 121.07,399.32 121.74,399.33 122.41,399.34 123.08,399.35 123.76,399.36 124.43,399.37 125.10,399.38 125.77,399.39 126.44,399.40 127.11,399.40 127.78,399.41 128.46,399.42 129.13,399.42 129.80,399.43 130.47,399.44 131.14,399.44 131.81,399.45 132.48,399.46 133.16,399.46 133.83,399.47 134.50,399.47 135.17,399.48 135.84,399.48 136.51,399.49 137.18,399.49 137.86,399.49 138.53,399.50 139.20,399.50 139.87,399.51 140.54,399.51 141.21,399.51 141.88,399.52 142.56,399.52 143.23,399.52 143.90,399.52 144.57,399.53 145.24,399.53 145.91,399.53 146.58,399.54 147.26,399.54 147.93,399.54 148.60,399.54 149.27,399.54 149.94,399.55 150.61,399.55 151.28,399.55 151.96,399.55 152.63,399.55 153.30,399.56 153.97,399.56 154.64,399.56 155.31,399.56 155.98,399.56 156.66,399.56 157.33,399.57 158.00,399.57 158.67,399.57 159.34,399.57 160.01,399.57 160.68,399.57 161.36,399.57 162.03,399.57 162.70,399.57 163.37,399.58 164.04,399.58 164.71,399.58 165.38,399.58 166.06,399.58 166.73,399.58 167.40,399.58 168.07,399.58 168.74,399.58 169.41,399.58 170.09,399.58 170.76,399.58 171.43,399.58 172.10,399.59 172.77,399.59 173.44,399.59 174.11,399.59 174.79,399.59 175.46,399.59 176.13,399.59 176.80,399.59 177.47,399.59 178.14,399.59 178.81,399.59 179.49,399.59 180.16,399.59 180.83,399.59 181.50,399.59 182.17,399.59 182.84,399.59 183.51,399.59 184.19,399.59 184.86,399.59 185.53,399.59 186.20,399.59 186.87,399.59 187.54,399.59 188.21,399.59 188.89,399.59" fill="none" stroke="#3a48b0" stroke-width="0.8" stroke-dasharray="3,2.5" opacity="0.6"/>
<polyline points="41.96,283.14 42.07,285.92 42.18,288.62 42.29,291.25 42.40,293.81 42.51,296.30 42.62,298.72 42.73,301.07 42.84,303.36 42.95,305.59 43.06,307.75 43.17,309.86 43.28,311.90 43.39,313.90 43.50,315.84 43.61,317.72 43.72,319.56 43.83,321.34 43.94,323.08 44.05,324.77 44.16,326.41 44.27,328.01 44.38,329.57 44.49,331.08 44.60,332.56 44.71,333.99 44.82,335.39 44.93,336.75 45.04,338.07 45.15,339.36 45.26,340.61 45.37,341.83 45.47,343.02 45.58,344.18 45.69,345.30 45.80,346.40 45.91,347.47 46.02,348.51 46.13,349.52 46.24,350.51 46.35,351.47 46.46,352.41 46.57,353.32 46.68,354.21 46.79,355.07 46.90,355.92 47.01,356.74 47.12,357.54 47.23,358.32 47.34,359.08 47.45,359.82 47.56,360.54 47.67,361.25 47.78,361.94 47.89,362.60 48.00,363.26 48.11,363.89 48.22,364.51 48.33,365.12 48.44,365.71 48.55,366.29 48.66,366.85 48.77,367.40 48.88,367.93 48.99,368.45 49.09,368.96 49.20,369.46 49.31,369.94 49.42,370.42 49.53,370.88 49.64,371.33 49.75,371.77 49.86,372.20 49.97,372.62 50.08,373.03 50.19,373.43 50.30,373.82 50.41,374.20 50.52,374.58 50.63,374.94 50.74,375.30 50.85,375.65 50.96,375.99 51.07,376.32 51.18,376.65 51.29,376.97 51.40,377.28 51.51,377.58 51.62,377.88 51.73,378.17 51.84,378.46 51.95,378.73 52.06,379.01 52.17,379.27 52.28,379.54 52.39,379.79 52.50,380.04 52.60,380.29 52.71,380.53 52.82,380.76 52.93,380.99" fill="none" stroke="#e03a30" stroke-width="0.9"/>
<polyline points="52.93,380.99 53.02,381.17 53.10,381.33 53.18,381.50 53.27,381.66 53.35,381.83 53.43,381.98 53.52,382.14 53.60,382.29 53.68,382.45 53.77,382.60 53.85,382.74 53.93,382.89 54.01,383.03 54.10,383.17 54.18,383.31 54.26,383.45 54.35,383.58 54.43,383.72 54.51,383.85 54.60,383.98 54.68,384.10 54.76,384.23 54.85,384.35 54.93,384.48 55.01,384.60 55.09,384.72 55.18,384.83 55.26,384.95 55.34,385.06 55.43,385.18 55.51,385.29 55.59,385.40 55.68,385.50 55.76,385.61 55.84,385.72 55.93,385.82 56.01,385.92 56.09,386.03 56.17,386.13 56.26,386.22 56.34,386.32 56.42,386.42 56.51,386.51 56.59,386.61 56.67,386.70 56.76,386.79 56.84,386.88 56.92,386.97 57.01,387.06 57.09,387.15 57.17,387.24 57.26,387.32 57.34,387.41 57.42,387.49 57.50,387.57 57.59,387.65 57.67,387.73 57.75,387.81 57.84,387.89 57.92,387.97 58.00,388.05 58.09,388.12 58.17,388.20 58.25,388.27 58.34,388.35 58.42,388.42 58.50,388.49 58.58,388.57 58.67,388.64 58.75,388.71 58.83,388.78 58.92,388.84 59.00,388.91 59.08,388.98 59.17,389.05 59.25,389.11 59.33,389.18 59.42,389.24 59.50,389.30 59.58,389.37 59.67,389.43 59.75,389.49 59.83,389.55 59.91,389.62 60.00,389.68 60.08,389.74 60.16,389.79 60.25,389.85 60.33,389.91 60.41,389.97 60.50,390.03 60.58,390.08 60.66,390.14 60.75,390.19 60.83,390.25 60.91,390.30 60.99,390.36 61.08,390.41 61.16,390.46 61.24,390.52" fill="none" stroke="#e03a30" stroke-width="0.8" stroke-dasharray="2,2.5"/>
<polyline points="61.24,390.52 61.67,390.78 62.09,391.03 62.52,391.27 62.95,391.50 63.37,391.73 63.80,391.94 64.22,392.15 64.65,392.35 65.07,392.54 65.50,392.72 65.92,392.90 66.35,393.08 66.78,393.25 67.20,393.41 67.63,393.57 68.05,393.72 68.48,393.87 68.90,394.01 69.33,394.15 69.75,394.29 70.18,394.42 70.60,394.55 71.03,394.68 71.46,394.80 71.88,394.92 72.31,395.03 72.73,395.14 73.16,395.25 73.58,395.36 74.01,395.46 74.43,395.56 74.86,395.66 75.28,395.76 75.71,395.85 76.14,395.94 76.56,396.03 76.99,396.12 77.41,396.20 77.84,396.29 78.26,396.37 78.69,396.44 79.11,396.52 79.54,396.60 79.96,396.67 80.39,396.74 80.82,396.81 81.24,396.88 81.67,396.94 82.09,397.01 82.52,397.07 82.94,397.13 83.37,397.19 83.79,397.25 84.22,397.30 84.64,397.36 85.07,397.41 85.50,397.47 85.92,397.52 86.35,397.57 86.77,397.62 87.20,397.66 87.62,397.71 88.05,397.76 88.47,397.80 88.90,397.84 89.33,397.89 89.75,397.93 90.18,397.97 90.60,398.01 91.03,398.05 91.45,398.08 91.88,398.12 92.30,398.16 92.73,398.19 93.15,398.22 93.58,398.26 94.01,398.29 94.43,398.32 94.86,398.35 95.28,398.38 95.71,398.41 96.13,398.44 96.56,398.47 96.98,398.50 97.41,398.52 97.83,398.55 98.26,398.57 98.69,398.60 99.11,398.62 99.54,398.65 99.96,398.67 100.39,398.69 100.81,398.71 101.24,398.73 101.66,398.76 102.09,398.78 102.51,398.80 102.94,398.81 103.37,398.83 103.79,398.85 104.22,398.87 104.64,398.89 105.07,398.91 105.49,398.92 105.92,398.94 106.34,398.95 106.77,398.97 107.19,398.98 107.62,399.00 108.05,399.01 108.47,399.03 108.90,399.04 109.32,399.06 109.75,399.07 110.17,399.08 110.60,399.09 111.02,399.11 111.45,399.12 111.88,399.13 112.30,399.14 112.73,399.15 113.15,399.16 113.58,399.17 114.00,399.18 114.43,399.19 114.85,399.20 115.28,399.21 115.70,399.22 116.13,399.23 116.56,399.24 116.98,399.25 117.41,399.26 117.83,399.27 118.26,399.27 118.68,399.28 119.11,399.29 119.53,399.30 119.96,399.30 120.38,399.31 120.81,399.32 121.24,399.32 121.66,399.33 122.09,399.34 122.51,399.34 122.94,399.35 123.36,399.36 123.79,399.36 124.21,399.37 124.64,399.37 125.06,399.38 125.49,399.38 125.92,399.39 126.34,399.39 126.77,399.40 127.19,399.40 127.62,399.41 128.04,399.41 128.47,399.42 128.89,399.42 129.32,399.43 129.74,399.43 130.17,399.44 130.60,399.44 131.02,399.44 131.45,399.45 131.87,399.45 132.30,399.45 132.72,399.46 133.15,399.46 133.57,399.46 134.00,399.47 134.43,399.47 134.85,399.47 135.28,399.48 135.70,399.48 136.13,399.48 136.55,399.49 136.98,399.49 137.40,399.49 137.83,399.49 138.25,399.50 138.68,399.50 139.11,399.50 139.53,399.50 139.96,399.51 140.38,399.51 140.81,399.51 141.23,399.51 141.66,399.51 142.08,399.52 142.51,399.52 142.93,399.52 143.36,399.52 143.79,399.52 144.21,399.53 144.64,399.53 145.06,399.53 145.49,399.53 145.91,399.53 146.34,399.53 146.76,399.54 147.19,399.54 147.61,399.54 148.04,399.54 148.47,399.54 148.89,399.54 149.32,399.54 149.74,399.55 150.17,399.55 150.59,399.55 151.02,399.55 151.44,399.55 151.87,399.55 152.30,399.55 152.72,399.55 153.15,399.56 153.57,399.56 154.00,399.56 154.42,399.56 154.85,399.56 155.27,399.56 155.70,399.56 156.12,399.56 156.55,399.56 156.98,399.56 157.40,399.57 157.83,399.57 158.25,399.57 158.68,399.57 159.10,399.57 159.53,399.57 159.95,399.57 160.38,399.57 160.80,399.57 161.23,399.57 161.66,399.57 162.08,399.57 162.51,399.57 162.93,399.57 163.36,399.58 163.78,399.58 164.21,399.58 164.63,399.58 165.06,399.58 165.48,399.58 165.91,399.58 166.34,399.58 166.76,399.58 167.19,399.58 167.61,399.58 168.04,399.58 168.46,399.58 168.89,399.58 169.31,399.58 169.74,399.58 170.16,399.58 170.59,399.58 171.02,399.58 171.44,399.58 171.87,399.58 172.29,399.59 172.72,399.59 173.14,399.59 173.57,399.59 173.99,399.59 174.42,399.59 174.85,399.59 175.27,399.59 175.70,399.59 176.12,399.59 176.55,399.59 176.97,399.59 177.40,399.59 177.82,399.59 178.25,399.59 178.67,399.59 179.10,399.59 179.53,399.59 179.95,399.59 180.38,399.59 180.80,399.59 181.23,399.59 181.65,399.59 182.08,399.59 182.50,399.59 182.93,399.59 183.35,399.59 183.78,399.59 184.21,399.59 184.63,399.59 185.06,399.59 185.48,399.59 185.91,399.59 186.33,399.59 186.76,399.59 187.18,399.59 187.61,399.59 188.03,399.59 188.46,399.59 188.89,399.59" fill="none" stroke="#c03040" stroke-width="0.7" stroke-dasharray="1.5,3.5" opacity="0.5"/>
<polyline points="41.96,283.14 42.06,285.67 42.16,288.14 42.26,290.54 42.36,292.89 42.46,295.18 42.56,297.41 42.66,299.58 42.76,301.70 42.86,303.77 42.96,305.79 43.06,307.75 43.16,309.67 43.26,311.54 43.36,313.36 43.46,315.14 43.56,316.87 43.66,318.56 43.76,320.21 43.86,321.82 43.96,323.39 44.06,324.92 44.16,326.41 44.26,327.87 44.36,329.29 44.46,330.67 44.56,332.02 44.66,333.34 44.76,334.63 44.86,335.89 44.96,337.11 45.06,338.31 45.16,339.47 45.26,340.61 45.36,341.72 45.45,342.81 45.55,343.87 45.65,344.90 45.75,345.91 45.85,346.89 45.95,347.85 46.05,348.79 46.15,349.70 46.25,350.60 46.35,351.47 46.45,352.32 46.55,353.16 46.65,353.97 46.75,354.76 46.85,355.54 46.95,356.29 47.05,357.03 47.15,357.75 47.25,358.46 47.35,359.15 47.45,359.82 47.55,360.48 47.65,361.12 47.75,361.75 47.85,362.36 47.95,362.96" fill="none" stroke="#e03a30" stroke-width="1"/>
<circle cx="114.6" cy="319.6" r="44.2" fill="#e4e4e4" stroke="#555" stroke-width="0.6"/>
<path d="M114.60,319.60 L114.60,275.40 A44.2,44.2 0 0 1 149.90,293.00 Z" fill="#f0e31e" stroke="#555" stroke-width="0.6"/>
<path d="M114.60,319.60 L149.90,293.00 A44.2,44.2 0 1 1 75.08,339.39 Z" fill="#63b545" stroke="#555" stroke-width="0.6"/>
<rect x="114.1" y="229.5" width="91.1" height="25.19999999999999" fill="#fff" stroke="#333" stroke-width="1"/>
<circle cx="131.3" cy="235.8" r="1.9" fill="none" stroke="#333" stroke-width="0.8"/>
<text x="143" y="238.1" font-size="6.6" text-anchor="start" fill="#222" stroke="#222" stroke-width="0.06" >Residence Times</text>
<line x1="122.2" y1="242.2" x2="139.3" y2="242.2" stroke="#7cc23c" stroke-width="1.3"/>
<text x="141" y="244.6" font-size="6.5" text-anchor="start" fill="#222" stroke="#222" stroke-width="0.06" >Single exponential fit</text>
<line x1="122.2" y1="249.6" x2="139.3" y2="249.6" stroke="#e0282a" stroke-width="1.3"/>
<text x="142" y="252.0" font-size="6.5" text-anchor="start" fill="#222" stroke="#222" stroke-width="0.06" >Double exponential fit</text>
<text x="72.5" y="278" font-size="9.8" text-anchor="middle" fill="#222" stroke="#222" stroke-width="0.12" >32.5 ± 0.6%</text>
<text x="150.9" y="265.8" font-size="9.7" text-anchor="middle" fill="#222" stroke="#222" stroke-width="0.12" >15.6 ± 1.9%</text>
<text x="161.95" y="277.4" font-size="9.7" text-anchor="middle" fill="#222" stroke="#222" stroke-width="0.12" >τ = 10.320 ± 1.052 s</text>
<text x="155.4" y="330.9" font-size="9.9" text-anchor="middle" fill="#222" stroke="#222" stroke-width="0.12" >52 ± 1.9%</text>
<text x="154.2" y="345.3" font-size="9.6" text-anchor="middle" fill="#222" stroke="#222" stroke-width="0.12" >τ = 1.951 ± 0.099s</text>
<text x="64.5" y="384.9" font-size="9.55" text-anchor="start" fill="#222" stroke="#222" stroke-width="0.12" >Number of tracks analyzed 2281</text>
<rect x="243.3" y="227.4" width="168.89999999999998" height="169.79999999999998" fill="none" stroke="#8a8a8a" stroke-width="0.9"/>
<line x1="243.3" y1="397.20" x2="245.0" y2="397.20" stroke="#8a8a8a" stroke-width="0.8"/>
<line x1="412.2" y1="397.20" x2="410.5" y2="397.20" stroke="#8a8a8a" stroke-width="0.8"/>
<text x="242.8" y="400.90" font-size="9.6" text-anchor="end" fill="#222" stroke="#222" stroke-width="0.12" >0</text>
<line x1="243.3" y1="380.22" x2="245.0" y2="380.22" stroke="#8a8a8a" stroke-width="0.8"/>
<line x1="412.2" y1="380.22" x2="410.5" y2="380.22" stroke="#8a8a8a" stroke-width="0.8"/>
<text x="242.8" y="383.92" font-size="9.6" text-anchor="end" fill="#222" stroke="#222" stroke-width="0.12" >0.1</text>
<line x1="243.3" y1="363.24" x2="245.0" y2="363.24" stroke="#8a8a8a" stroke-width="0.8"/>
<line x1="412.2" y1="363.24" x2="410.5" y2="363.24" stroke="#8a8a8a" stroke-width="0.8"/>
<text x="242.8" y="366.94" font-size="9.6" text-anchor="end" fill="#222" stroke="#222" stroke-width="0.12" >0.2</text>
<line x1="243.3" y1="346.26" x2="245.0" y2="346.26" stroke="#8a8a8a" stroke-width="0.8"/>
<line x1="412.2" y1="346.26" x2="410.5" y2="346.26" stroke="#8a8a8a" stroke-width="0.8"/>
<text x="242.8" y="349.96" font-size="9.6" text-anchor="end" fill="#222" stroke="#222" stroke-width="0.12" >0.3</text>
<line x1="243.3" y1="329.28" x2="245.0" y2="329.28" stroke="#8a8a8a" stroke-width="0.8"/>
<line x1="412.2" y1="329.28" x2="410.5" y2="329.28" stroke="#8a8a8a" stroke-width="0.8"/>
<text x="242.8" y="332.98" font-size="9.6" text-anchor="end" fill="#222" stroke="#222" stroke-width="0.12" >0.4</text>
<line x1="243.3" y1="312.30" x2="245.0" y2="312.30" stroke="#8a8a8a" stroke-width="0.8"/>
<line x1="412.2" y1="312.30" x2="410.5" y2="312.30" stroke="#8a8a8a" stroke-width="0.8"/>
<text x="242.8" y="316.00" font-size="9.6" text-anchor="end" fill="#222" stroke="#222" stroke-width="0.12" >0.5</text>
<line x1="243.3" y1="295.32" x2="245.0" y2="295.32" stroke="#8a8a8a" stroke-width="0.8"/>
<line x1="412.2" y1="295.32" x2="410.5" y2="295.32" stroke="#8a8a8a" stroke-width="0.8"/>
<text x="242.8" y="299.02" font-size="9.6" text-anchor="end" fill="#222" stroke="#222" stroke-width="0.12" >0.6</text>
<line x1="243.3" y1="278.34" x2="245.0" y2="278.34" stroke="#8a8a8a" stroke-width="0.8"/>
<line x1="412.2" y1="278.34" x2="410.5" y2="278.34" stroke="#8a8a8a" stroke-width="0.8"/>
<text x="242.8" y="282.04" font-size="9.6" text-anchor="end" fill="#222" stroke="#222" stroke-width="0.12" >0.7</text>
<line x1="243.3" y1="261.36" x2="245.0" y2="261.36" stroke="#8a8a8a" stroke-width="0.8"/>
<line x1="412.2" y1="261.36" x2="410.5" y2="261.36" stroke="#8a8a8a" stroke-width="0.8"/>
<text x="242.8" y="265.06" font-size="9.6" text-anchor="end" fill="#222" stroke="#222" stroke-width="0.12" >0.8</text>
<line x1="243.3" y1="244.38" x2="245.0" y2="244.38" stroke="#8a8a8a" stroke-width="0.8"/>
<line x1="412.2" y1="244.38" x2="410.5" y2="244.38" stroke="#8a8a8a" stroke-width="0.8"/>
<text x="242.8" y="248.08" font-size="9.6" text-anchor="end" fill="#222" stroke="#222" stroke-width="0.12" >0.9</text>
<line x1="243.3" y1="227.40" x2="245.0" y2="227.40" stroke="#8a8a8a" stroke-width="0.8"/>
<line x1="412.2" y1="227.40" x2="410.5" y2="227.40" stroke="#8a8a8a" stroke-width="0.8"/>
<text x="242.8" y="232.60" font-size="9.6" text-anchor="end" fill="#222" stroke="#222" stroke-width="0.12" >1</text>
<line x1="243.30" y1="397.2" x2="243.30" y2="395.5" stroke="#8a8a8a" stroke-width="0.8"/>
<line x1="243.30" y1="227.4" x2="243.30" y2="229.1" stroke="#8a8a8a" stroke-width="0.8"/>
<text x="244.30" y="408.2" font-size="9.6" text-anchor="middle" fill="#222" stroke="#222" stroke-width="0.12" >0</text>
<line x1="277.08" y1="397.2" x2="277.08" y2="395.5" stroke="#8a8a8a" stroke-width="0.8"/>
<line x1="277.08" y1="227.4" x2="277.08" y2="229.1" stroke="#8a8a8a" stroke-width="0.8"/>
<text x="277.08" y="408.2" font-size="9.6" text-anchor="middle" fill="#222" stroke="#222" stroke-width="0.12" >20</text>
<line x1="310.86" y1="397.2" x2="310.86" y2="395.5" stroke="#8a8a8a" stroke-width="0.8"/>
<line x1="310.86" y1="227.4" x2="310.86" y2="229.1" stroke="#8a8a8a" stroke-width="0.8"/>
<text x="310.86" y="408.2" font-size="9.6" text-anchor="middle" fill="#222" stroke="#222" stroke-width="0.12" >40</text>
<line x1="344.64" y1="397.2" x2="344.64" y2="395.5" stroke="#8a8a8a" stroke-width="0.8"/>
<line x1="344.64" y1="227.4" x2="344.64" y2="229.1" stroke="#8a8a8a" stroke-width="0.8"/>
<text x="344.64" y="408.2" font-size="9.6" text-anchor="middle" fill="#222" stroke="#222" stroke-width="0.12" >60</text>
<line x1="378.42" y1="397.2" x2="378.42" y2="395.5" stroke="#8a8a8a" stroke-width="0.8"/>
<line x1="378.42" y1="227.4" x2="378.42" y2="229.1" stroke="#8a8a8a" stroke-width="0.8"/>
<text x="379.42" y="408.2" font-size="9.6" text-anchor="middle" fill="#222" stroke="#222" stroke-width="0.12" >80</text>
<line x1="412.20" y1="397.2" x2="412.20" y2="395.5" stroke="#8a8a8a" stroke-width="0.8"/>
<line x1="412.20" y1="227.4" x2="412.20" y2="229.1" stroke="#8a8a8a" stroke-width="0.8"/>
<text x="415.20" y="408.2" font-size="9.6" text-anchor="middle" fill="#222" stroke="#222" stroke-width="0.12" >100</text>
<text x="321.9" y="225.6" font-size="11" text-anchor="middle" fill="#222" stroke="#222" stroke-width="0.22" >DRB</text>
<text x="332.2" y="418.7" font-size="11" text-anchor="middle" fill="#222" stroke="#222" stroke-width="0.22" >Time in sec</text>
<polyline points="244.48,305.95 244.81,314.10 245.15,321.52 245.48,328.28 245.81,334.44 246.14,340.05 246.47,345.15 246.81,349.80 247.14,354.03 247.47,357.89 247.80,361.40 248.13,364.60 248.46,367.51 248.80,370.16 249.13,372.58 249.46,374.78 249.79,376.78 250.12,378.61 250.46,380.27 250.79,381.78 251.12,383.16 251.45,384.41 251.78,385.55 252.12,386.59 252.45,387.54 252.78,388.40 253.11,389.19 253.44,389.91 253.78,390.56 254.11,391.15 254.44,391.69 254.77,392.18 255.10,392.63 255.43,393.04 255.77,393.41 256.10,393.75 256.43,394.06 256.76,394.34 257.09,394.59 257.43,394.83 257.76,395.04 258.09,395.23 258.42,395.41 258.75,395.57 259.09,395.71 259.42,395.85 259.75,395.97 260.08,396.08 260.41,396.18 260.74,396.27 261.08,396.35 261.41,396.43 261.74,396.50 262.07,396.56 262.40,396.62 262.74,396.67 263.07,396.72 263.40,396.76 263.73,396.80 264.06,396.83 264.40,396.87 264.73,396.90 265.06,396.92 265.39,396.95 265.72,396.97 266.06,396.99 266.39,397.01 266.72,397.03 267.05,397.04 267.38,397.06 267.71,397.07 268.05,397.08 268.38,397.09 268.71,397.10 269.04,397.11 269.37,397.12 269.71,397.13 270.04,397.13 270.37,397.14 270.70,397.14 271.03,397.15 271.37,397.15 271.70,397.16 272.03,397.16 272.36,397.16 272.69,397.17 273.02,397.17 273.36,397.17 273.69,397.18 274.02,397.18 274.35,397.18 274.68,397.18 275.02,397.18 275.35,397.18 275.68,397.19 276.01,397.19 276.34,397.19 276.68,397.19 277.01,397.19 277.34,397.19 277.67,397.19 278.00,397.19 278.33,397.19 278.67,397.19 279.00,397.19 279.33,397.20 279.66,397.20 279.99,397.20 280.33,397.20 280.66,397.20 280.99,397.20 281.32,397.20 281.65,397.20 281.99,397.20 282.32,397.20 282.65,397.20 282.98,397.20 283.31,397.20 283.65,397.20 283.98,397.20 284.31,397.20 284.64,397.20 284.97,397.20 285.30,397.20 285.64,397.20 285.97,397.20 286.30,397.20 286.63,397.20 286.96,397.20 287.30,397.20 287.63,397.20 287.96,397.20 288.29,397.20 288.62,397.20 288.96,397.20 289.29,397.20 289.62,397.20 289.95,397.20 290.28,397.20 290.61,397.20 290.95,397.20 291.28,397.20 291.61,397.20 291.94,397.20 292.27,397.20 292.61,397.20 292.94,397.20 293.27,397.20 293.60,397.20 293.93,397.20 294.27,397.20 294.60,397.20 294.93,397.20 295.26,397.20 295.59,397.20 295.93,397.20 296.26,397.20 296.59,397.20 296.92,397.20 297.25,397.20 297.58,397.20 297.92,397.20 298.25,397.20 298.58,397.20 298.91,397.20 299.24,397.20 299.58,397.20 299.91,397.20 300.24,397.20 300.57,397.20 300.90,397.20 301.24,397.20 301.57,397.20 301.90,397.20 302.23,397.20 302.56,397.20 302.89,397.20 303.23,397.20 303.56,397.20 303.89,397.20 304.22,397.20 304.55,397.20 304.89,397.20 305.22,397.20 305.55,397.20 305.88,397.20 306.21,397.20 306.55,397.20 306.88,397.20 307.21,397.20 307.54,397.20 307.87,397.20 308.20,397.20 308.54,397.20 308.87,397.20 309.20,397.20 309.53,397.20 309.86,397.20 310.20,397.20 310.53,397.20 310.86,397.20" fill="none" stroke="#4a5ed0" stroke-width="0.9"/>
<polyline points="243.81,378.94 244.49,379.48 245.18,380.01 245.86,380.52 246.55,381.02 247.24,381.50 247.92,381.97 248.61,382.43 249.29,382.87 249.98,383.29 250.66,383.71 251.35,384.11 252.04,384.50 252.72,384.88 253.41,385.25 254.09,385.61 254.78,385.95 255.46,386.29 256.15,386.61 256.84,386.93 257.52,387.24 258.21,387.53 258.89,387.82 259.58,388.10 260.26,388.37 260.95,388.64 261.64,388.89 262.32,389.14 263.01,389.38 263.69,389.61 264.38,389.84 265.06,390.06 265.75,390.27 266.44,390.48 267.12,390.68 267.81,390.87 268.49,391.06 269.18,391.25 269.86,391.42 270.55,391.60 271.24,391.76 271.92,391.93 272.61,392.08 273.29,392.24 273.98,392.38 274.66,392.53 275.35,392.67 276.04,392.80 276.72,392.93 277.41,393.06 278.09,393.19 278.78,393.30 279.46,393.42 280.15,393.53 280.84,393.64 281.52,393.75 282.21,393.85 282.89,393.95 283.58,394.05 284.27,394.14 284.95,394.23 285.64,394.32 286.32,394.41 287.01,394.49 287.69,394.57 288.38,394.65 289.07,394.73 289.75,394.80 290.44,394.87 291.12,394.94 291.81,395.01 292.49,395.08 293.18,395.14 293.87,395.20 294.55,395.26 295.24,395.32 295.92,395.37 296.61,395.43 297.29,395.48 297.98,395.53 298.67,395.58 299.35,395.63 300.04,395.68 300.72,395.72 301.41,395.77 302.09,395.81 302.78,395.85 303.47,395.89 304.15,395.93 304.84,395.97 305.52,396.01 306.21,396.04 306.89,396.08 307.58,396.11 308.27,396.14 308.95,396.17 309.64,396.20 310.32,396.23 311.01,396.26 311.69,396.29 312.38,396.32 313.07,396.34 313.75,396.37 314.44,396.39 315.12,396.42 315.81,396.44 316.49,396.46 317.18,396.49 317.87,396.51 318.55,396.53 319.24,396.55 319.92,396.57 320.61,396.59 321.29,396.60 321.98,396.62 322.67,396.64 323.35,396.66 324.04,396.67 324.72,396.69 325.41,396.70 326.09,396.72 326.78,396.73 327.47,396.75 328.15,396.76 328.84,396.77 329.52,396.79 330.21,396.80 330.89,396.81 331.58,396.82 332.27,396.83 332.95,396.84 333.64,396.85 334.32,396.87 335.01,396.88 335.70,396.88 336.38,396.89 337.07,396.90 337.75,396.91 338.44,396.92 339.12,396.93 339.81,396.94 340.50,396.95 341.18,396.95 341.87,396.96 342.55,396.97 343.24,396.97 343.92,396.98 344.61,396.99 345.30,396.99 345.98,397.00 346.67,397.01 347.35,397.01 348.04,397.02 348.72,397.02 349.41,397.03 350.10,397.03 350.78,397.04 351.47,397.04 352.15,397.05 352.84,397.05 353.52,397.06 354.21,397.06 354.90,397.07 355.58,397.07 356.27,397.07 356.95,397.08 357.64,397.08 358.32,397.08 359.01,397.09 359.70,397.09 360.38,397.09 361.07,397.10 361.75,397.10 362.44,397.10 363.12,397.11 363.81,397.11 364.50,397.11 365.18,397.11 365.87,397.12 366.55,397.12 367.24,397.12 367.92,397.12 368.61,397.13 369.30,397.13 369.98,397.13 370.67,397.13 371.35,397.13 372.04,397.14 372.72,397.14 373.41,397.14 374.10,397.14 374.78,397.14 375.47,397.15 376.15,397.15 376.84,397.15 377.52,397.15 378.21,397.15 378.90,397.15 379.58,397.15 380.27,397.16 380.95,397.16" fill="none" stroke="#4a5ed0" stroke-width="0.9" stroke-dasharray="3,2"/>
<polyline points="244.48,298.31 244.98,306.81 245.48,314.58 245.98,321.68 246.49,328.17 246.99,334.10 247.49,339.52 247.99,344.48 248.49,349.01 248.99,353.15 249.49,356.93 249.99,360.39 250.49,363.56 250.99,366.45 251.49,369.09 251.99,371.51 252.49,373.71 253.00,375.73 253.50,377.58 254.00,379.26 254.50,380.80 255.00,382.21 255.50,383.50 256.00,384.68 256.50,385.75 257.00,386.74 257.50,387.64 258.00,388.46 258.50,389.21 259.01,389.90 259.51,390.52 260.01,391.10 260.51,391.62 261.01,392.10 261.51,392.54 262.01,392.94 262.51,393.31 263.01,393.64 263.51,393.95 264.01,394.23 264.51,394.48 265.01,394.72 265.52,394.93 266.02,395.12 266.52,395.30 267.02,395.47 267.52,395.61 268.02,395.75 268.52,395.88 269.02,395.99 269.52,396.09 270.02,396.19 270.52,396.28 271.02,396.35 271.52,396.43 272.03,396.49 272.53,396.55 273.03,396.61 273.53,396.66 274.03,396.71 274.53,396.75 275.03,396.79 275.53,396.82 276.03,396.86 276.53,396.89 277.03,396.91 277.53,396.94 278.04,396.96 278.54,396.98 279.04,397.00 279.54,397.02 280.04,397.03 280.54,397.05 281.04,397.06 281.54,397.07 282.04,397.08 282.54,397.09 283.04,397.10 283.54,397.11 284.04,397.12 284.55,397.13 285.05,397.13 285.55,397.14 286.05,397.14 286.55,397.15 287.05,397.15 287.55,397.16 288.05,397.16 288.55,397.16 289.05,397.17 289.55,397.17 290.05,397.17 290.55,397.17 291.06,397.18 291.56,397.18 292.06,397.18 292.56,397.18 293.06,397.18 293.56,397.19 294.06,397.19 294.56,397.19 295.06,397.19 295.56,397.19 296.06,397.19 296.56,397.19 297.07,397.19 297.57,397.19 298.07,397.19 298.57,397.19 299.07,397.19 299.57,397.19 300.07,397.20 300.57,397.20 301.07,397.20 301.57,397.20 302.07,397.20 302.57,397.20 303.07,397.20 303.58,397.20 304.08,397.20 304.58,397.20 305.08,397.20 305.58,397.20 306.08,397.20 306.58,397.20 307.08,397.20 307.58,397.20 308.08,397.20 308.58,397.20 309.08,397.20 309.58,397.20 310.09,397.20 310.59,397.20 311.09,397.20 311.59,397.20 312.09,397.20 312.59,397.20 313.09,397.20 313.59,397.20 314.09,397.20 314.59,397.20 315.09,397.20 315.59,397.20 316.10,397.20 316.60,397.20 317.10,397.20 317.60,397.20 318.10,397.20 318.60,397.20 319.10,397.20 319.60,397.20 320.10,397.20 320.60,397.20 321.10,397.20 321.60,397.20 322.10,397.20 322.61,397.20 323.11,397.20 323.61,397.20 324.11,397.20 324.61,397.20 325.11,397.20 325.61,397.20 326.11,397.20 326.61,397.20 327.11,397.20 327.61,397.20 328.11,397.20 328.61,397.20 329.12,397.20 329.62,397.20 330.12,397.20 330.62,397.20 331.12,397.20 331.62,397.20 332.12,397.20 332.62,397.20 333.12,397.20 333.62,397.20 334.12,397.20 334.62,397.20 335.13,397.20 335.63,397.20 336.13,397.20 336.63,397.20 337.13,397.20 337.63,397.20 338.13,397.20 338.63,397.20 339.13,397.20 339.63,397.20 340.13,397.20 340.63,397.20 341.13,397.20 341.64,397.20 342.14,397.20 342.64,397.20 343.14,397.20 343.64,397.20 344.14,397.20 344.64,397.20" fill="none" stroke="#5cc040" stroke-width="0.9"/>
<g fill="none" stroke="#3a3a3a" stroke-width="0.7"><circle cx="245.33" cy="291.57" r="1.5"/><circle cx="245.66" cy="298.90" r="1.5"/><circle cx="246.00" cy="306.10" r="1.5"/><circle cx="246.34" cy="312.08" r="1.5"/><circle cx="246.68" cy="319.72" r="1.5"/><circle cx="247.02" cy="324.45" r="1.5"/><circle cx="247.35" cy="334.43" r="1.5"/><circle cx="247.69" cy="336.85" r="1.5"/><circle cx="248.03" cy="338.98" r="1.5"/><circle cx="248.37" cy="344.27" r="1.5"/><circle cx="248.70" cy="346.91" r="1.5"/><circle cx="249.04" cy="353.16" r="1.5"/><circle cx="249.38" cy="354.85" r="1.5"/><circle cx="249.72" cy="358.29" r="1.5"/><circle cx="250.06" cy="359.86" r="1.5"/><circle cx="250.39" cy="362.08" r="1.5"/><circle cx="250.73" cy="365.66" r="1.5"/><circle cx="251.07" cy="367.01" r="1.5"/><circle cx="251.41" cy="368.59" r="1.5"/><circle cx="251.75" cy="368.79" r="1.5"/><circle cx="252.08" cy="370.64" r="1.5"/><circle cx="252.42" cy="373.23" r="1.5"/><circle cx="252.76" cy="373.27" r="1.5"/><circle cx="253.10" cy="375.63" r="1.5"/><circle cx="253.43" cy="375.85" r="1.5"/><circle cx="253.77" cy="377.64" r="1.5"/><circle cx="254.11" cy="378.72" r="1.5"/><circle cx="254.45" cy="378.24" r="1.5"/><circle cx="254.79" cy="379.98" r="1.5"/><circle cx="255.12" cy="380.67" r="1.5"/><circle cx="255.46" cy="380.33" r="1.5"/><circle cx="255.80" cy="381.11" r="1.5"/><circle cx="256.14" cy="382.41" r="1.5"/><circle cx="256.47" cy="382.16" r="1.5"/><circle cx="256.81" cy="383.15" r="1.5"/><circle cx="257.15" cy="383.47" r="1.5"/><circle cx="257.49" cy="384.41" r="1.5"/><circle cx="257.83" cy="384.06" r="1.5"/><circle cx="258.16" cy="384.70" r="1.5"/><circle cx="258.50" cy="384.80" r="1.5"/><circle cx="258.84" cy="385.22" r="1.5"/><circle cx="259.18" cy="386.09" r="1.5"/><circle cx="259.51" cy="386.33" r="1.5"/><circle cx="259.85" cy="386.78" r="1.5"/><circle cx="260.19" cy="387.05" r="1.5"/><circle cx="260.53" cy="387.37" r="1.5"/><circle cx="260.87" cy="387.41" r="1.5"/><circle cx="261.20" cy="387.41" r="1.5"/><circle cx="261.54" cy="388.08" r="1.5"/><circle cx="261.88" cy="387.78" r="1.5"/><circle cx="262.22" cy="388.23" r="1.5"/><circle cx="262.55" cy="388.44" r="1.5"/><circle cx="262.89" cy="388.27" r="1.5"/><circle cx="263.23" cy="388.68" r="1.5"/><circle cx="263.57" cy="388.96" r="1.5"/><circle cx="263.91" cy="389.01" r="1.5"/><circle cx="264.24" cy="389.02" r="1.5"/><circle cx="264.58" cy="389.58" r="1.5"/><circle cx="264.92" cy="389.15" r="1.5"/><circle cx="265.26" cy="389.88" r="1.5"/><circle cx="265.59" cy="389.58" r="1.5"/><circle cx="265.93" cy="389.66" r="1.5"/><circle cx="266.27" cy="390.27" r="1.5"/><circle cx="266.61" cy="389.95" r="1.5"/><circle cx="266.95" cy="390.31" r="1.5"/><circle cx="267.28" cy="390.31" r="1.5"/><circle cx="267.62" cy="390.73" r="1.5"/><circle cx="267.96" cy="390.82" r="1.5"/><circle cx="268.30" cy="390.86" r="1.5"/><circle cx="268.63" cy="390.56" r="1.5"/><circle cx="268.97" cy="391.05" r="1.5"/><circle cx="269.31" cy="390.87" r="1.5"/><circle cx="269.65" cy="390.89" r="1.5"/><circle cx="269.99" cy="390.99" r="1.5"/><circle cx="270.32" cy="391.37" r="1.5"/><circle cx="270.66" cy="391.45" r="1.5"/><circle cx="271.00" cy="391.47" r="1.5"/><circle cx="271.34" cy="391.44" r="1.5"/><circle cx="271.68" cy="391.83" r="1.5"/><circle cx="272.01" cy="391.63" r="1.5"/><circle cx="272.35" cy="391.70" r="1.5"/><circle cx="272.69" cy="391.76" r="1.5"/><circle cx="273.03" cy="392.18" r="1.5"/><circle cx="273.36" cy="391.89" r="1.5"/><circle cx="273.70" cy="392.31" r="1.5"/><circle cx="274.04" cy="392.29" r="1.5"/><circle cx="274.38" cy="392.26" r="1.5"/><circle cx="274.72" cy="392.21" r="1.5"/><circle cx="275.05" cy="392.51" r="1.5"/><circle cx="275.39" cy="392.36" r="1.5"/><circle cx="275.73" cy="392.57" r="1.5"/><circle cx="276.07" cy="392.73" r="1.5"/><circle cx="276.40" cy="392.79" r="1.5"/><circle cx="276.74" cy="392.91" r="1.5"/><circle cx="277.08" cy="393.01" r="1.5"/><circle cx="277.42" cy="393.05" r="1.5"/><circle cx="277.76" cy="392.93" r="1.5"/><circle cx="278.09" cy="392.89" r="1.5"/><circle cx="278.43" cy="393.23" r="1.5"/><circle cx="278.77" cy="393.32" r="1.5"/><circle cx="279.11" cy="393.08" r="1.5"/><circle cx="279.44" cy="393.29" r="1.5"/><circle cx="279.78" cy="393.38" r="1.5"/><circle cx="280.12" cy="393.49" r="1.5"/><circle cx="280.46" cy="393.44" r="1.5"/><circle cx="280.80" cy="393.43" r="1.5"/><circle cx="281.13" cy="393.59" r="1.5"/><circle cx="281.47" cy="393.66" r="1.5"/><circle cx="281.81" cy="393.81" r="1.5"/><circle cx="282.15" cy="393.62" r="1.5"/><circle cx="282.48" cy="393.92" r="1.5"/><circle cx="282.82" cy="393.84" r="1.5"/><circle cx="283.16" cy="393.80" r="1.5"/><circle cx="283.50" cy="394.04" r="1.5"/><circle cx="283.84" cy="393.93" r="1.5"/><circle cx="284.17" cy="393.92" r="1.5"/><circle cx="284.51" cy="394.05" r="1.5"/><circle cx="284.85" cy="394.06" r="1.5"/><circle cx="285.19" cy="394.27" r="1.5"/><circle cx="285.52" cy="394.24" r="1.5"/><circle cx="285.86" cy="394.35" r="1.5"/><circle cx="286.20" cy="394.23" r="1.5"/><circle cx="286.54" cy="394.40" r="1.5"/><circle cx="286.88" cy="394.40" r="1.5"/><circle cx="287.21" cy="394.32" r="1.5"/><circle cx="287.55" cy="394.40" r="1.5"/><circle cx="287.89" cy="394.41" r="1.5"/><circle cx="288.23" cy="394.57" r="1.5"/><circle cx="288.57" cy="394.60" r="1.5"/><circle cx="288.90" cy="394.59" r="1.5"/><circle cx="289.24" cy="394.68" r="1.5"/><circle cx="289.58" cy="394.75" r="1.5"/><circle cx="289.92" cy="394.77" r="1.5"/><circle cx="290.25" cy="394.85" r="1.5"/><circle cx="290.59" cy="394.84" r="1.5"/><circle cx="290.93" cy="394.76" r="1.5"/><circle cx="291.27" cy="394.80" r="1.5"/><circle cx="291.61" cy="394.90" r="1.5"/><circle cx="291.94" cy="394.96" r="1.5"/><circle cx="292.28" cy="395.02" r="1.5"/><circle cx="292.62" cy="395.09" r="1.5"/><circle cx="292.96" cy="395.09" r="1.5"/><circle cx="293.29" cy="395.04" r="1.5"/><circle cx="293.63" cy="395.06" r="1.5"/><circle cx="293.97" cy="395.17" r="1.5"/><circle cx="294.31" cy="395.13" r="1.5"/><circle cx="294.65" cy="395.17" r="1.5"/><circle cx="294.98" cy="395.21" r="1.5"/><circle cx="295.32" cy="395.24" r="1.5"/><circle cx="295.66" cy="395.26" r="1.5"/><circle cx="296.00" cy="395.35" r="1.5"/><circle cx="296.33" cy="395.32" r="1.5"/><circle cx="296.67" cy="395.41" r="1.5"/><circle cx="297.01" cy="395.41" r="1.5"/><circle cx="297.35" cy="395.40" r="1.5"/><circle cx="297.69" cy="395.43" r="1.5"/><circle cx="298.02" cy="395.51" r="1.5"/><circle cx="298.36" cy="395.45" r="1.5"/><circle cx="298.70" cy="395.52" r="1.5"/><circle cx="299.04" cy="395.55" r="1.5"/><circle cx="299.37" cy="395.65" r="1.5"/><circle cx="299.71" cy="395.60" r="1.5"/><circle cx="300.05" cy="395.66" r="1.5"/><circle cx="300.39" cy="395.63" r="1.5"/><circle cx="300.73" cy="395.68" r="1.5"/><circle cx="301.06" cy="395.66" r="1.5"/><circle cx="301.40" cy="395.71" r="1.5"/><circle cx="301.74" cy="395.71" r="1.5"/><circle cx="302.08" cy="395.78" r="1.5"/><circle cx="302.41" cy="395.77" r="1.5"/><circle cx="302.75" cy="395.78" r="1.5"/><circle cx="303.09" cy="395.79" r="1.5"/><circle cx="303.43" cy="395.87" r="1.5"/><circle cx="303.77" cy="395.83" r="1.5"/><circle cx="304.10" cy="395.85" r="1.5"/><circle cx="304.44" cy="395.89" r="1.5"/><circle cx="304.78" cy="395.88" r="1.5"/><circle cx="305.12" cy="395.90" r="1.5"/><circle cx="305.46" cy="395.96" r="1.5"/><circle cx="305.79" cy="395.98" r="1.5"/><circle cx="306.13" cy="396.03" r="1.5"/><circle cx="306.47" cy="395.99" r="1.5"/><circle cx="306.81" cy="396.00" r="1.5"/><circle cx="307.14" cy="396.06" r="1.5"/><circle cx="307.48" cy="396.05" r="1.5"/><circle cx="307.82" cy="396.07" r="1.5"/><circle cx="308.16" cy="396.08" r="1.5"/><circle cx="308.50" cy="396.15" r="1.5"/><circle cx="308.83" cy="396.11" r="1.5"/><circle cx="309.17" cy="396.15" r="1.5"/><circle cx="309.51" cy="396.15" r="1.5"/><circle cx="309.85" cy="396.19" r="1.5"/><circle cx="310.18" cy="396.19" r="1.5"/><circle cx="310.52" cy="396.19" r="1.5"/><circle cx="310.86" cy="396.22" r="1.5"/><circle cx="311.20" cy="396.23" r="1.5"/><circle cx="311.54" cy="396.29" r="1.5"/><circle cx="311.87" cy="396.30" r="1.5"/><circle cx="312.21" cy="396.29" r="1.5"/><circle cx="312.55" cy="396.29" r="1.5"/><circle cx="312.89" cy="396.33" r="1.5"/><circle cx="313.22" cy="396.31" r="1.5"/><circle cx="313.56" cy="396.33" r="1.5"/><circle cx="313.90" cy="396.38" r="1.5"/><circle cx="314.24" cy="396.36" r="1.5"/><circle cx="314.58" cy="396.39" r="1.5"/><circle cx="314.91" cy="396.42" r="1.5"/><circle cx="315.25" cy="396.42" r="1.5"/><circle cx="315.59" cy="396.42" r="1.5"/><circle cx="315.93" cy="396.44" r="1.5"/><circle cx="316.26" cy="396.45" r="1.5"/><circle cx="316.60" cy="396.47" r="1.5"/><circle cx="316.94" cy="396.46" r="1.5"/><circle cx="317.28" cy="396.47" r="1.5"/><circle cx="317.62" cy="396.47" r="1.5"/><circle cx="317.95" cy="396.48" r="1.5"/><circle cx="318.29" cy="396.51" r="1.5"/><circle cx="318.63" cy="396.49" r="1.5"/><circle cx="318.97" cy="396.55" r="1.5"/><circle cx="319.31" cy="396.54" r="1.5"/><circle cx="319.64" cy="396.55" r="1.5"/><circle cx="319.98" cy="396.55" r="1.5"/><circle cx="320.32" cy="396.58" r="1.5"/><circle cx="320.66" cy="396.55" r="1.5"/><circle cx="320.99" cy="396.58" r="1.5"/><circle cx="321.33" cy="396.61" r="1.5"/><circle cx="321.67" cy="396.59" r="1.5"/><circle cx="322.01" cy="396.62" r="1.5"/><circle cx="322.35" cy="396.61" r="1.5"/><circle cx="322.68" cy="396.63" r="1.5"/><circle cx="323.02" cy="396.63" r="1.5"/><circle cx="323.36" cy="396.62" r="1.5"/><circle cx="323.70" cy="396.63" r="1.5"/><circle cx="324.03" cy="396.66" r="1.5"/><circle cx="324.37" cy="396.65" r="1.5"/><circle cx="324.71" cy="396.67" r="1.5"/><circle cx="325.05" cy="396.69" r="1.5"/><circle cx="325.39" cy="396.70" r="1.5"/><circle cx="325.72" cy="396.69" r="1.5"/><circle cx="326.06" cy="396.70" r="1.5"/><circle cx="326.40" cy="396.69" r="1.5"/><circle cx="326.74" cy="396.70" r="1.5"/><circle cx="327.07" cy="396.72" r="1.5"/><circle cx="327.41" cy="396.74" r="1.5"/><circle cx="327.75" cy="396.72" r="1.5"/><circle cx="328.09" cy="396.76" r="1.5"/><circle cx="328.43" cy="396.77" r="1.5"/><circle cx="328.76" cy="396.76" r="1.5"/><circle cx="329.10" cy="396.76" r="1.5"/><circle cx="329.44" cy="396.78" r="1.5"/><circle cx="329.78" cy="396.77" r="1.5"/><circle cx="330.11" cy="396.77" r="1.5"/><circle cx="330.45" cy="396.79" r="1.5"/><circle cx="330.79" cy="396.80" r="1.5"/><circle cx="331.13" cy="396.81" r="1.5"/><circle cx="331.47" cy="396.82" r="1.5"/><circle cx="331.80" cy="396.80" r="1.5"/><circle cx="332.14" cy="396.82" r="1.5"/><circle cx="332.48" cy="396.81" r="1.5"/><circle cx="332.82" cy="396.82" r="1.5"/><circle cx="333.15" cy="396.83" r="1.5"/><circle cx="333.49" cy="396.85" r="1.5"/><circle cx="333.83" cy="396.83" r="1.5"/><circle cx="334.17" cy="396.85" r="1.5"/><circle cx="334.51" cy="396.86" r="1.5"/><circle cx="334.84" cy="396.87" r="1.5"/><circle cx="335.18" cy="396.86" r="1.5"/><circle cx="335.52" cy="396.87" r="1.5"/><circle cx="335.86" cy="396.88" r="1.5"/><circle cx="336.20" cy="396.88" r="1.5"/><circle cx="336.53" cy="396.90" r="1.5"/><circle cx="336.87" cy="396.89" r="1.5"/><circle cx="337.21" cy="396.90" r="1.5"/><circle cx="337.55" cy="396.91" r="1.5"/><circle cx="337.88" cy="396.90" r="1.5"/><circle cx="338.22" cy="396.90" r="1.5"/><circle cx="338.56" cy="396.93" r="1.5"/><circle cx="338.90" cy="396.92" r="1.5"/><circle cx="339.24" cy="396.93" r="1.5"/><circle cx="339.57" cy="396.92" r="1.5"/><circle cx="339.91" cy="396.92" r="1.5"/><circle cx="340.25" cy="396.94" r="1.5"/><circle cx="340.59" cy="396.94" r="1.5"/><circle cx="340.92" cy="396.95" r="1.5"/><circle cx="341.26" cy="396.94" r="1.5"/><circle cx="341.60" cy="396.95" r="1.5"/><circle cx="341.94" cy="396.95" r="1.5"/><circle cx="342.28" cy="396.96" r="1.5"/><circle cx="342.61" cy="396.96" r="1.5"/><circle cx="342.95" cy="396.96" r="1.5"/><circle cx="343.29" cy="396.96" r="1.5"/><circle cx="343.63" cy="396.98" r="1.5"/><circle cx="343.96" cy="396.97" r="1.5"/><circle cx="344.30" cy="396.98" r="1.5"/><circle cx="344.64" cy="396.98" r="1.5"/><circle cx="344.98" cy="396.99" r="1.5"/><circle cx="345.32" cy="396.99" r="1.5"/><circle cx="345.65" cy="396.99" r="1.5"/><circle cx="345.99" cy="396.99" r="1.5"/><circle cx="346.33" cy="397.00" r="1.5"/><circle cx="346.67" cy="397.00" r="1.5"/><circle cx="347.00" cy="397.00" r="1.5"/><circle cx="347.34" cy="397.01" r="1.5"/><circle cx="347.68" cy="397.01" r="1.5"/><circle cx="348.02" cy="397.01" r="1.5"/><circle cx="348.36" cy="397.01" r="1.5"/><circle cx="348.69" cy="397.01" r="1.5"/><circle cx="349.03" cy="397.02" r="1.5"/><circle cx="349.37" cy="397.03" r="1.5"/><circle cx="349.71" cy="397.02" r="1.5"/><circle cx="350.04" cy="397.03" r="1.5"/><circle cx="350.38" cy="397.03" r="1.5"/><circle cx="350.72" cy="397.03" r="1.5"/><circle cx="351.06" cy="397.03" r="1.5"/><circle cx="351.40" cy="397.04" r="1.5"/><circle cx="351.73" cy="397.03" r="1.5"/><circle cx="352.07" cy="397.04" r="1.5"/><circle cx="352.41" cy="397.05" r="1.5"/><circle cx="352.75" cy="397.04" r="1.5"/><circle cx="353.09" cy="397.05" r="1.5"/><circle cx="353.42" cy="397.05" r="1.5"/><circle cx="353.76" cy="397.05" r="1.5"/><circle cx="354.10" cy="397.06" r="1.5"/><circle cx="354.44" cy="397.05" r="1.5"/><circle cx="354.77" cy="397.06" r="1.5"/><circle cx="355.11" cy="397.06" r="1.5"/><circle cx="355.45" cy="397.07" r="1.5"/><circle cx="355.79" cy="397.06" r="1.5"/><circle cx="356.13" cy="397.06" r="1.5"/><circle cx="356.46" cy="397.07" r="1.5"/><circle cx="356.80" cy="397.07" r="1.5"/><circle cx="357.14" cy="397.07" r="1.5"/><circle cx="357.48" cy="397.08" r="1.5"/><circle cx="357.81" cy="397.08" r="1.5"/><circle cx="358.15" cy="397.08" r="1.5"/><circle cx="358.49" cy="397.08" r="1.5"/><circle cx="358.83" cy="397.08" r="1.5"/><circle cx="359.17" cy="397.09" r="1.5"/><circle cx="359.50" cy="397.09" r="1.5"/><circle cx="359.84" cy="397.09" r="1.5"/><circle cx="360.18" cy="397.09" r="1.5"/><circle cx="360.52" cy="397.09" r="1.5"/><circle cx="360.85" cy="397.10" r="1.5"/><circle cx="361.19" cy="397.09" r="1.5"/><circle cx="361.53" cy="397.09" r="1.5"/><circle cx="361.87" cy="397.09" r="1.5"/><circle cx="362.21" cy="397.10" r="1.5"/><circle cx="362.54" cy="397.10" r="1.5"/><circle cx="362.88" cy="397.10" r="1.5"/><circle cx="363.22" cy="397.11" r="1.5"/><circle cx="363.56" cy="397.10" r="1.5"/><circle cx="363.89" cy="397.10" r="1.5"/><circle cx="364.23" cy="397.11" r="1.5"/><circle cx="364.57" cy="397.11" r="1.5"/><circle cx="364.91" cy="397.11" r="1.5"/><circle cx="365.25" cy="397.11" r="1.5"/><circle cx="365.58" cy="397.12" r="1.5"/><circle cx="365.92" cy="397.11" r="1.5"/><circle cx="366.26" cy="397.12" r="1.5"/><circle cx="366.60" cy="397.12" r="1.5"/><circle cx="366.93" cy="397.12" r="1.5"/><circle cx="367.27" cy="397.12" r="1.5"/><circle cx="367.61" cy="397.12" r="1.5"/><circle cx="367.95" cy="397.12" r="1.5"/><circle cx="368.29" cy="397.13" r="1.5"/><circle cx="368.62" cy="397.13" r="1.5"/><circle cx="368.96" cy="397.12" r="1.5"/><circle cx="369.30" cy="397.13" r="1.5"/><circle cx="369.64" cy="397.13" r="1.5"/><circle cx="369.98" cy="397.13" r="1.5"/><circle cx="370.31" cy="397.13" r="1.5"/><circle cx="370.65" cy="397.13" r="1.5"/><circle cx="370.99" cy="397.13" r="1.5"/><circle cx="371.33" cy="397.13" r="1.5"/><circle cx="371.66" cy="397.13" r="1.5"/><circle cx="372.00" cy="397.14" r="1.5"/><circle cx="372.34" cy="397.14" r="1.5"/><circle cx="372.68" cy="397.14" r="1.5"/><circle cx="373.02" cy="397.14" r="1.5"/><circle cx="373.35" cy="397.14" r="1.5"/><circle cx="373.69" cy="397.14" r="1.5"/><circle cx="374.03" cy="397.14" r="1.5"/><circle cx="374.37" cy="397.14" r="1.5"/><circle cx="374.70" cy="397.14" r="1.5"/><circle cx="375.04" cy="397.14" r="1.5"/><circle cx="375.38" cy="397.14" r="1.5"/><circle cx="375.72" cy="397.15" r="1.5"/><circle cx="376.06" cy="397.14" r="1.5"/><circle cx="376.39" cy="397.15" r="1.5"/><circle cx="376.73" cy="397.15" r="1.5"/><circle cx="377.07" cy="397.15" r="1.5"/><circle cx="377.41" cy="397.15" r="1.5"/><circle cx="377.74" cy="397.15" r="1.5"/><circle cx="378.08" cy="397.15" r="1.5"/><circle cx="378.42" cy="397.15" r="1.5"/><circle cx="378.76" cy="397.15" r="1.5"/><circle cx="379.10" cy="397.15" r="1.5"/><circle cx="379.43" cy="397.15" r="1.5"/><circle cx="379.77" cy="397.16" r="1.5"/><circle cx="380.11" cy="397.16" r="1.5"/><circle cx="380.45" cy="397.15" r="1.5"/><circle cx="380.78" cy="397.16" r="1.5"/></g>
<polyline points="247.69,349.32 247.79,350.26 247.88,351.17 247.98,352.06 248.07,352.93 248.17,353.77 248.27,354.60 248.36,355.40 248.46,356.19 248.55,356.95 248.65,357.70 248.74,358.43 248.84,359.14 248.94,359.83 249.03,360.50 249.13,361.16 249.22,361.80 249.32,362.43 249.41,363.04 249.51,363.64 249.61,364.22 249.70,364.78 249.80,365.34 249.89,365.88 249.99,366.40 250.08,366.92 250.18,367.42 250.28,367.91 250.37,368.39 250.47,368.86 250.56,369.31 250.66,369.76 250.75,370.19 250.85,370.61 250.95,371.03 251.04,371.43 251.14,371.82 251.23,372.21 251.33,372.59 251.42,372.95 251.52,373.31 251.62,373.66 251.71,374.00 251.81,374.34 251.90,374.67 252.00,374.98 252.09,375.30 252.19,375.60 252.29,375.90 252.38,376.19 252.48,376.47 252.57,376.75 252.67,377.02 252.76,377.29 252.86,377.55 252.96,377.80 253.05,378.05 253.15,378.29 253.24,378.53 253.34,378.76 253.43,378.99" fill="none" stroke="#111" stroke-width="2.6" stroke-linecap="round"/>
<polyline points="251.75,374.12 252.18,375.56 252.61,376.85 253.04,378.02 253.47,379.07 253.90,380.03 254.33,380.89 254.76,381.68 255.19,382.40 255.62,383.06 256.05,383.66 256.48,384.21 256.91,384.72 257.34,385.19 257.77,385.62 258.21,386.02 258.64,386.39 259.07,386.74 259.50,387.06 259.93,387.37 260.36,387.65 260.79,387.92 261.22,388.17 261.65,388.41 262.08,388.64 262.51,388.85 262.94,389.06 263.37,389.25 263.80,389.26 264.24,389.45 264.67,389.62 265.10,389.80 265.53,389.96 265.96,390.12 266.39,390.28 266.82,390.42 267.25,390.57 267.68,390.71 268.11,390.84 268.54,390.97 268.97,391.10 269.40,391.22 269.83,391.35 270.26,391.46 270.70,391.58 271.13,391.69 271.56,391.80 271.99,391.90 272.42,392.01 272.85,392.11 273.28,392.21 273.71,392.30 274.14,392.40 274.57,392.49 275.00,392.58 275.43,392.67 275.86,392.76 276.29,392.84 276.73,392.92 277.16,393.01 277.59,393.09 278.02,393.16 278.45,393.24 278.88,393.32 279.31,393.39 279.74,393.46 280.17,393.53 280.60,393.60 281.03,393.67 281.46,393.74 281.89,393.80 282.32,393.87 282.76,393.93 283.19,393.99 283.62,394.05 284.05,394.11 284.48,394.17 284.91,394.23 285.34,394.28 285.77,394.34 286.20,394.39 286.63,394.45 287.06,394.50 287.49,394.55 287.92,394.60 288.35,394.65 288.78,394.70 289.22,394.74 289.65,394.79 290.08,394.84 290.51,394.88 290.94,394.92 291.37,394.97 291.80,395.01 292.23,395.05 292.66,395.09 293.09,395.13 293.52,395.17 293.95,395.21 294.38,395.25 294.81,395.28 295.25,395.32 295.68,395.35 296.11,395.39 296.54,395.42 296.97,395.46 297.40,395.49 297.83,395.52 298.26,395.55 298.69,395.58 299.12,395.61 299.55,395.64 299.98,395.67 300.41,395.70 300.84,395.73 301.27,395.76 301.71,395.79 302.14,395.81 302.57,395.84 303.00,395.86 303.43,395.89 303.86,395.91 304.29,395.94 304.72,395.96 305.15,395.99 305.58,396.01 306.01,396.03 306.44,396.05 306.87,396.07 307.30,396.10 307.74,396.12 308.17,396.14 308.60,396.16 309.03,396.18 309.46,396.20 309.89,396.21 310.32,396.23 310.75,396.25 311.18,396.27 311.61,396.29 312.04,396.30 312.47,396.32 312.90,396.34 313.33,396.35 313.77,396.37 314.20,396.39 314.63,396.40 315.06,396.42 315.49,396.43 315.92,396.45 316.35,396.46 316.78,396.47 317.21,396.49 317.64,396.50 318.07,396.51 318.50,396.53 318.93,396.54 319.36,396.55 319.79,396.56 320.23,396.58 320.66,396.59 321.09,396.60 321.52,396.61 321.95,396.62 322.38,396.63 322.81,396.64 323.24,396.65 323.67,396.66 324.10,396.67 324.53,396.68 324.96,396.69 325.39,396.70 325.82,396.71 326.26,396.72 326.69,396.73 327.12,396.74 327.55,396.75 327.98,396.76 328.41,396.77 328.84,396.77 329.27,396.78 329.70,396.79 330.13,396.80 330.56,396.80 330.99,396.81 331.42,396.82 331.85,396.83 332.28,396.83 332.72,396.84 333.15,396.85 333.58,396.85 334.01,396.86 334.44,396.87 334.87,396.87 335.30,396.88 335.73,396.89 336.16,396.89 336.59,396.90 337.02,396.90 337.45,396.91 337.88,396.91 338.31,396.92 338.75,396.92 339.18,396.93 339.61,396.93 340.04,396.94 340.47,396.94 340.90,396.95 341.33,396.95 341.76,396.96 342.19,396.96 342.62,396.97 343.05,396.97 343.48,396.98 343.91,396.98 344.34,396.99 344.78,396.99 345.21,396.99 345.64,397.00 346.07,397.00 346.50,397.00 346.93,397.01 347.36,397.01 347.79,397.02 348.22,397.02 348.65,397.02 349.08,397.03 349.51,397.03 349.94,397.03 350.37,397.04 350.80,397.04 351.24,397.04 351.67,397.04 352.10,397.05 352.53,397.05 352.96,397.05 353.39,397.06 353.82,397.06 354.25,397.06 354.68,397.06 355.11,397.07 355.54,397.07 355.97,397.07 356.40,397.07 356.83,397.08 357.27,397.08 357.70,397.08 358.13,397.08 358.56,397.09 358.99,397.09 359.42,397.09 359.85,397.09 360.28,397.09 360.71,397.10 361.14,397.10 361.57,397.10 362.00,397.10 362.43,397.10 362.86,397.11 363.30,397.11 363.73,397.11 364.16,397.11 364.59,397.11 365.02,397.11 365.45,397.12 365.88,397.12 366.31,397.12 366.74,397.12 367.17,397.12 367.60,397.12 368.03,397.12 368.46,397.13 368.89,397.13 369.32,397.13 369.76,397.13 370.19,397.13 370.62,397.13 371.05,397.13 371.48,397.14 371.91,397.14 372.34,397.14 372.77,397.14 373.20,397.14 373.63,397.14 374.06,397.14 374.49,397.14 374.92,397.14 375.35,397.15 375.79,397.15 376.22,397.15 376.65,397.15 377.08,397.15 377.51,397.15 377.94,397.15 378.37,397.15 378.80,397.15 379.23,397.15 379.66,397.15 380.09,397.16 380.52,397.16 380.95,397.16" fill="none" stroke="#111" stroke-width="3.3" stroke-linecap="round"/>
<polyline points="256.81,386.92 257.43,387.20 258.05,387.47 258.67,387.73 259.29,387.99 259.92,388.24 260.54,388.48 261.16,388.71 261.78,388.94 262.40,389.17 263.02,389.38 263.64,389.60 264.26,389.80 264.88,390.00 265.50,390.20 266.12,390.39 266.74,390.57 267.36,390.75 267.98,390.92 268.61,391.09 269.23,391.26 269.85,391.42 270.47,391.58 271.09,391.73 271.71,391.88 272.33,392.02 272.95,392.16 273.57,392.30 274.19,392.43 274.81,392.56 275.43,392.68 276.05,392.81 276.67,392.93 277.30,393.04 277.92,393.15 278.54,393.26 279.16,393.37 279.78,393.47 280.40,393.57 281.02,393.67 281.64,393.77 282.26,393.86 282.88,393.95 283.50,394.04 284.12,394.12 284.74,394.21 285.36,394.29 285.99,394.37 286.61,394.44 287.23,394.52 287.85,394.59 288.47,394.66 289.09,394.73 289.71,394.80 290.33,394.86 290.95,394.93 291.57,394.99 292.19,395.05 292.81,395.10 293.43,395.16 294.05,395.22 294.68,395.27 295.30,395.32 295.92,395.37 296.54,395.42 297.16,395.47 297.78,395.52 298.40,395.56 299.02,395.61 299.64,395.65 300.26,395.69 300.88,395.73 301.50,395.77 302.12,395.81 302.74,395.85 303.37,395.89 303.99,395.92 304.61,395.96 305.23,395.99 305.85,396.02 306.47,396.05 307.09,396.08 307.71,396.12 308.33,396.14 308.95,396.17 309.57,396.20 310.19,396.23 310.81,396.25 311.43,396.28 312.05,396.30 312.68,396.33 313.30,396.35 313.92,396.38 314.54,396.40 315.16,396.42 315.78,396.44 316.40,396.46 317.02,396.48 317.64,396.50 318.26,396.52 318.88,396.54 319.50,396.56 320.12,396.57 320.74,396.59 321.37,396.61 321.99,396.62 322.61,396.64 323.23,396.65 323.85,396.67 324.47,396.68 325.09,396.70 325.71,396.71 326.33,396.72 326.95,396.74 327.57,396.75 328.19,396.76 328.81,396.77 329.43,396.78 330.06,396.80 330.68,396.81 331.30,396.82 331.92,396.83 332.54,396.84 333.16,396.85 333.78,396.86 334.40,396.87 335.02,396.88 335.64,396.88 336.26,396.89 336.88,396.90 337.50,396.91 338.12,396.92 338.75,396.92 339.37,396.93 339.99,396.94 340.61,396.95 341.23,396.95 341.85,396.96 342.47,396.97 343.09,396.97 343.71,396.98 344.33,396.98 344.95,396.99 345.57,397.00 346.19,397.00 346.81,397.01 347.44,397.01 348.06,397.02 348.68,397.02 349.30,397.03 349.92,397.03 350.54,397.04 351.16,397.04 351.78,397.05 352.40,397.05 353.02,397.05 353.64,397.06 354.26,397.06 354.88,397.07 355.50,397.07 356.13,397.07 356.75,397.08 357.37,397.08 357.99,397.08 358.61,397.09 359.23,397.09 359.85,397.09 360.47,397.09 361.09,397.10 361.71,397.10 362.33,397.10 362.95,397.11 363.57,397.11 364.19,397.11 364.82,397.11 365.44,397.12 366.06,397.12 366.68,397.12 367.30,397.12 367.92,397.12 368.54,397.13 369.16,397.13 369.78,397.13 370.40,397.13 371.02,397.13 371.64,397.14 372.26,397.14 372.88,397.14 373.51,397.14 374.13,397.14 374.75,397.14 375.37,397.15 375.99,397.15 376.61,397.15 377.23,397.15 377.85,397.15 378.47,397.15 379.09,397.15 379.71,397.15 380.33,397.16 380.95,397.16" fill="none" stroke="#3a48b0" stroke-width="0.8" stroke-dasharray="3,2.5" opacity="0.6"/>
<polyline points="244.48,288.22 244.59,291.00 244.70,293.70 244.80,296.32 244.91,298.87 245.01,301.34 245.12,303.75 245.23,306.08 245.33,308.35 245.44,310.55 245.55,312.69 245.65,314.76 245.76,316.78 245.87,318.74 245.97,320.65 246.08,322.50 246.18,324.29 246.29,326.04 246.40,327.74 246.50,329.38 246.61,330.98 246.72,332.54 246.82,334.05 246.93,335.52 247.04,336.95 247.14,338.33 247.25,339.68 247.36,340.99 247.46,342.27 247.57,343.50 247.67,344.71 247.78,345.87 247.89,347.01 247.99,348.11 248.10,349.19 248.21,350.23 248.31,351.24 248.42,352.23 248.53,353.19 248.63,354.12 248.74,355.03 248.84,355.91 248.95,356.77 249.06,357.60 249.16,358.41 249.27,359.20 249.38,359.96 249.48,360.71 249.59,361.43 249.70,362.14 249.80,362.83 249.91,363.49 250.02,364.14 250.12,364.77 250.23,365.39 250.33,365.99 250.44,366.57 250.55,367.14 250.65,367.69 250.76,368.22 250.87,368.75 250.97,369.25 251.08,369.75 251.19,370.23 251.29,370.70 251.40,371.16 251.51,371.60 251.61,372.04 251.72,372.46 251.82,372.87 251.93,373.27 252.04,373.66 252.14,374.04 252.25,374.41 252.36,374.77 252.46,375.12 252.57,375.47 252.68,375.80 252.78,376.12 252.89,376.44 252.99,376.75 253.10,377.05 253.21,377.35 253.31,377.63 253.42,377.91 253.53,378.19 253.63,378.45 253.74,378.71 253.85,378.97 253.95,379.21 254.06,379.46 254.17,379.69 254.27,379.92 254.38,380.15 254.48,380.37 254.59,380.58 254.70,380.79 254.80,380.99 254.91,381.19 255.02,381.39 255.12,381.58" fill="none" stroke="#e03a30" stroke-width="0.9"/>
<polyline points="255.12,381.58 255.21,381.73 255.29,381.87 255.38,382.02 255.46,382.16 255.55,382.29 255.63,382.43 255.71,382.56 255.80,382.69 255.88,382.82 255.97,382.95 256.05,383.07 256.14,383.19 256.22,383.31 256.31,383.43 256.39,383.55 256.47,383.66 256.56,383.77 256.64,383.88 256.73,383.99 256.81,384.10 256.90,384.20 256.98,384.30 257.07,384.41 257.15,384.51 257.23,384.60 257.32,384.70 257.40,384.80 257.49,384.89 257.57,384.98 257.66,385.07 257.74,385.16 257.83,385.25 257.91,385.33 257.99,385.42 258.08,385.50 258.16,385.59 258.25,385.67 258.33,385.75 258.42,385.83 258.50,385.91 258.59,385.98 258.67,386.06 258.75,386.13 258.84,386.21 258.92,386.28 259.01,386.35 259.09,386.42 259.18,386.49 259.26,386.56 259.35,386.63 259.43,386.69 259.51,386.76 259.60,386.82 259.68,386.89 259.77,386.95 259.85,387.01 259.94,387.08 260.02,387.14 260.11,387.20 260.19,387.26 260.27,387.31 260.36,387.37 260.44,387.43 260.53,387.49 260.61,387.54 260.70,387.60 260.78,387.65 260.87,387.70 260.95,387.76 261.03,387.81 261.12,387.86 261.20,387.91 261.29,387.96 261.37,388.01 261.46,388.06 261.54,388.11 261.63,388.16 261.71,388.21 261.79,388.26 261.88,388.30 261.96,388.35 262.05,388.40 262.13,388.44 262.22,388.49 262.30,388.53 262.39,388.58 262.47,388.62 262.55,388.66 262.64,388.71 262.72,388.75 262.81,388.79 262.89,388.83 262.98,388.87 263.06,388.91 263.15,388.96 263.23,389.00 263.31,389.03 263.40,389.07 263.48,389.11 263.57,389.15" fill="none" stroke="#e03a30" stroke-width="0.8" stroke-dasharray="2,2.5"/>
<polyline points="263.57,389.15 263.96,389.33 264.35,389.49 264.74,389.66 265.13,389.81 265.52,389.96 265.92,390.11 266.31,390.25 266.70,390.38 267.09,390.52 267.48,390.64 267.87,390.77 268.26,390.89 268.65,391.01 269.05,391.12 269.44,391.23 269.83,391.34 270.22,391.45 270.61,391.55 271.00,391.66 271.39,391.76 271.78,391.85 272.18,391.95 272.57,392.04 272.96,392.13 273.35,392.22 273.74,392.31 274.13,392.40 274.52,392.48 274.92,392.56 275.31,392.64 275.70,392.72 276.09,392.80 276.48,392.88 276.87,392.95 277.26,393.03 277.65,393.10 278.05,393.17 278.44,393.24 278.83,393.31 279.22,393.37 279.61,393.44 280.00,393.51 280.39,393.57 280.78,393.63 281.18,393.69 281.57,393.75 281.96,393.81 282.35,393.87 282.74,393.93 283.13,393.98 283.52,394.04 283.91,394.09 284.31,394.15 284.70,394.20 285.09,394.25 285.48,394.30 285.87,394.35 286.26,394.40 286.65,394.45 287.05,394.50 287.44,394.54 287.83,394.59 288.22,394.63 288.61,394.68 289.00,394.72 289.39,394.76 289.78,394.80 290.18,394.85 290.57,394.89 290.96,394.93 291.35,394.96 291.74,395.00 292.13,395.04 292.52,395.08 292.91,395.11 293.31,395.15 293.70,395.18 294.09,395.22 294.48,395.25 294.87,395.29 295.26,395.32 295.65,395.35 296.04,395.38 296.44,395.41 296.83,395.45 297.22,395.48 297.61,395.50 298.00,395.53 298.39,395.56 298.78,395.59 299.17,395.62 299.57,395.65 299.96,395.67 300.35,395.70 300.74,395.72 301.13,395.75 301.52,395.77 301.91,395.80 302.31,395.82 302.70,395.85 303.09,395.87 303.48,395.89 303.87,395.91 304.26,395.94 304.65,395.96 305.04,395.98 305.44,396.00 305.83,396.02 306.22,396.04 306.61,396.06 307.00,396.08 307.39,396.10 307.78,396.12 308.17,396.14 308.57,396.16 308.96,396.17 309.35,396.19 309.74,396.21 310.13,396.23 310.52,396.24 310.91,396.26 311.30,396.27 311.70,396.29 312.09,396.31 312.48,396.32 312.87,396.34 313.26,396.35 313.65,396.37 314.04,396.38 314.44,396.39 314.83,396.41 315.22,396.42 315.61,396.43 316.00,396.45 316.39,396.46 316.78,396.47 317.17,396.49 317.57,396.50 317.96,396.51 318.35,396.52 318.74,396.53 319.13,396.55 319.52,396.56 319.91,396.57 320.30,396.58 320.70,396.59 321.09,396.60 321.48,396.61 321.87,396.62 322.26,396.63 322.65,396.64 323.04,396.65 323.43,396.66 323.83,396.67 324.22,396.68 324.61,396.69 325.00,396.69 325.39,396.70 325.78,396.71 326.17,396.72 326.56,396.73 326.96,396.74 327.35,396.74 327.74,396.75 328.13,396.76 328.52,396.77 328.91,396.77 329.30,396.78 329.70,396.79 330.09,396.80 330.48,396.80 330.87,396.81 331.26,396.82 331.65,396.82 332.04,396.83 332.43,396.84 332.83,396.84 333.22,396.85 333.61,396.85 334.00,396.86 334.39,396.87 334.78,396.87 335.17,396.88 335.56,396.88 335.96,396.89 336.35,396.89 336.74,396.90 337.13,396.90 337.52,396.91 337.91,396.91 338.30,396.92 338.69,396.92 339.09,396.93 339.48,396.93 339.87,396.94 340.26,396.94 340.65,396.95 341.04,396.95 341.43,396.96 341.82,396.96 342.22,396.96 342.61,396.97 343.00,396.97 343.39,396.98 343.78,396.98 344.17,396.98 344.56,396.99 344.96,396.99 345.35,396.99 345.74,397.00 346.13,397.00 346.52,397.00 346.91,397.01 347.30,397.01 347.69,397.01 348.09,397.02 348.48,397.02 348.87,397.02 349.26,397.03 349.65,397.03 350.04,397.03 350.43,397.04 350.82,397.04 351.22,397.04 351.61,397.04 352.00,397.05 352.39,397.05 352.78,397.05 353.17,397.05 353.56,397.06 353.95,397.06 354.35,397.06 354.74,397.06 355.13,397.07 355.52,397.07 355.91,397.07 356.30,397.07 356.69,397.08 357.09,397.08 357.48,397.08 357.87,397.08 358.26,397.08 358.65,397.09 359.04,397.09 359.43,397.09 359.82,397.09 360.22,397.09 360.61,397.10 361.00,397.10 361.39,397.10 361.78,397.10 362.17,397.10 362.56,397.10 362.95,397.11 363.35,397.11 363.74,397.11 364.13,397.11 364.52,397.11 364.91,397.11 365.30,397.11 365.69,397.12 366.08,397.12 366.48,397.12 366.87,397.12 367.26,397.12 367.65,397.12 368.04,397.12 368.43,397.13 368.82,397.13 369.21,397.13 369.61,397.13 370.00,397.13 370.39,397.13 370.78,397.13 371.17,397.13 371.56,397.14 371.95,397.14 372.35,397.14 372.74,397.14 373.13,397.14 373.52,397.14 373.91,397.14 374.30,397.14 374.69,397.14 375.08,397.14 375.48,397.15 375.87,397.15 376.26,397.15 376.65,397.15 377.04,397.15 377.43,397.15 377.82,397.15 378.21,397.15 378.61,397.15 379.00,397.15 379.39,397.15 379.78,397.16 380.17,397.16 380.56,397.16 380.95,397.16" fill="none" stroke="#c03040" stroke-width="0.7" stroke-dasharray="1.5,3.5" opacity="0.5"/>
<polyline points="244.48,288.22 244.58,290.65 244.67,293.02 244.76,295.33 244.85,297.59 244.95,299.78 245.04,301.92 245.13,304.01 245.23,306.04 245.32,308.03 245.41,309.96 245.50,311.85 245.60,313.68 245.69,315.48 245.78,317.22 245.88,318.93 245.97,320.59 246.06,322.21 246.15,323.78 246.25,325.32 246.34,326.83 246.43,328.29 246.53,329.72 246.62,331.11 246.71,332.47 246.80,333.79 246.90,335.08 246.99,336.34 247.08,337.57 247.18,338.77 247.27,339.94 247.36,341.07 247.45,342.19 247.55,343.27 247.64,344.33 247.73,345.36 247.83,346.36 247.92,347.35 248.01,348.30 248.11,349.24 248.20,350.15 248.29,351.04 248.38,351.91 248.48,352.75 248.57,353.58 248.66,354.38 248.76,355.17 248.85,355.94 248.94,356.69 249.03,357.42 249.13,358.13 249.22,358.82 249.31,359.50 249.41,360.17 249.50,360.81 249.59,361.45 249.68,362.06 249.78,362.66 249.87,363.25 249.96,363.83 250.06,364.39" fill="none" stroke="#e03a30" stroke-width="1"/>
<circle cx="327.4" cy="319.6" r="44.2" fill="#e4e4e4" stroke="#555" stroke-width="0.6"/>
<path d="M327.40,319.60 L327.40,275.40 A44.2,44.2 0 0 1 355.34,285.35 Z" fill="#f0e31e" stroke="#555" stroke-width="0.6"/>
<path d="M327.40,319.60 L355.34,285.35 A44.2,44.2 0 1 1 291.96,346.02 Z" fill="#63b545" stroke="#555" stroke-width="0.6"/>
<rect x="319.5" y="231.1" width="87.5" height="23.599999999999994" fill="#fff" stroke="#333" stroke-width="1"/>
<circle cx="333.4" cy="235.8" r="1.9" fill="none" stroke="#333" stroke-width="0.8"/>
<text x="350.8" y="238.1" font-size="6.6" text-anchor="start" fill="#222" stroke="#222" stroke-width="0.06" >Residence Times</text>
<line x1="325.9" y1="242.7" x2="339.5" y2="242.7" stroke="#7cc23c" stroke-width="1.3"/>
<text x="342.3" y="245.1" font-size="6.5" text-anchor="start" fill="#222" stroke="#222" stroke-width="0.06" >Single exponential fit</text>
<line x1="325.9" y1="249.9" x2="339.5" y2="249.9" stroke="#e0282a" stroke-width="1.3"/>
<text x="341.6" y="252.3" font-size="6.5" text-anchor="start" fill="#222" stroke="#222" stroke-width="0.06" >Double exponential fit</text>
<text x="281.3" y="281.5" font-size="9.6" text-anchor="middle" fill="#222" stroke="#222" stroke-width="0.12" >35 ± 0.5%</text>
<text x="369.3" y="270.7" font-size="9.8" text-anchor="middle" fill="#222" stroke="#222" stroke-width="0.12" >10.6 ± 1.2%</text>
<text x="369.25" y="281" font-size="9.55" text-anchor="middle" fill="#222" stroke="#222" stroke-width="0.12" >τ = 13.413 ± 1.432s</text>
<text x="372.75" y="333.1" font-size="9.7" text-anchor="middle" fill="#222" stroke="#222" stroke-width="0.12" >54.2 ± 1.2%</text>
<text x="372.35" y="350.2" font-size="9.6" text-anchor="middle" fill="#222" stroke="#222" stroke-width="0.12" >τ = 2.096 ± 0.071s</text>
<text x="263.9" y="384.2" font-size="9.55" text-anchor="start" fill="#222" stroke="#222" stroke-width="0.12" >Number of tracks analyzed 2564</text>
<line x1="243.6" y1="227.4" x2="243.6" y2="397.2" stroke="#6a6a6a" stroke-width="1"/>
<text x="24.9" y="310" font-size="10.8" text-anchor="middle" fill="#222" stroke="#222" stroke-width="0.22" transform="rotate(-90 24.9 310)">Counts</text>
<text x="224.2" y="310" font-size="10.8" text-anchor="middle" fill="#222" stroke="#222" stroke-width="0.22" transform="rotate(-90 224.2 310)">Counts</text>
<rect x="145.6" y="431.7" width="22.4" height="13.3" fill="#e4e4e4"/>
<text x="169.8" y="442.9" font-size="9.5" text-anchor="start" fill="#222" stroke="#222" stroke-width="0.12" >Unbound</text>
<rect x="212.2" y="431.7" width="22.9" height="13.3" fill="#f0e31e"/>
<text x="237.7" y="442.9" font-size="9.5" text-anchor="start" fill="#222" stroke="#222" stroke-width="0.12" >Bound</text>
<rect x="272" y="431.7" width="23" height="13.3" fill="#63b545"/>
<text x="297.4" y="442.9" font-size="9.5" text-anchor="start" fill="#222" stroke="#222" stroke-width="0.12" >Transiently Bound</text>
<line x1="496.9" y1="229" x2="499.4" y2="229" stroke="#111" stroke-width="1"/>
<text x="495.3" y="232.6" font-size="10" text-anchor="end" fill="#333" stroke="#333" stroke-width="0.22" >0.70</text>
<line x1="496.9" y1="256.5" x2="499.4" y2="256.5" stroke="#111" stroke-width="1"/>
<text x="495.3" y="260.1" font-size="10" text-anchor="end" fill="#333" stroke="#333" stroke-width="0.22" >0.60</text>
<line x1="496.9" y1="282.5" x2="499.4" y2="282.5" stroke="#111" stroke-width="1"/>
<text x="495.3" y="286.1" font-size="10" text-anchor="end" fill="#333" stroke="#333" stroke-width="0.22" >0.50</text>
<line x1="496.9" y1="307.8" x2="499.4" y2="307.8" stroke="#111" stroke-width="1"/>
<text x="495.3" y="311.4" font-size="10" text-anchor="end" fill="#333" stroke="#333" stroke-width="0.22" >0.40</text>
<line x1="496.9" y1="333.9" x2="499.4" y2="333.9" stroke="#111" stroke-width="1"/>
<text x="495.3" y="337.5" font-size="10" text-anchor="end" fill="#333" stroke="#333" stroke-width="0.22" >0.30</text>
<line x1="496.9" y1="359" x2="499.4" y2="359" stroke="#111" stroke-width="1"/>
<text x="495.3" y="362.6" font-size="10" text-anchor="end" fill="#333" stroke="#333" stroke-width="0.22" >0.20</text>
<line x1="496.9" y1="384.7" x2="499.4" y2="384.7" stroke="#111" stroke-width="1"/>
<text x="495.3" y="388.3" font-size="10" text-anchor="end" fill="#333" stroke="#333" stroke-width="0.22" >0.10</text>
<line x1="528" y1="268.3" x2="528" y2="341.2" stroke="#555" stroke-width="1"/>
<line x1="516.1" y1="268.3" x2="539.9" y2="268.3" stroke="#555" stroke-width="1.1"/>
<line x1="528" y1="389.5" x2="528" y2="399.2" stroke="#555" stroke-width="1"/>
<line x1="516.1" y1="399.2" x2="539.9" y2="399.2" stroke="#555" stroke-width="1.1"/>
<line x1="585" y1="284.6" x2="585" y2="332.2" stroke="#555" stroke-width="1"/>
<line x1="573.3" y1="284.6" x2="596.7" y2="284.6" stroke="#555" stroke-width="1.1"/>
<line x1="585" y1="368.6" x2="585" y2="397.8" stroke="#555" stroke-width="1"/>
<line x1="573.3" y1="397.8" x2="596.7" y2="397.8" stroke="#555" stroke-width="1.1"/>
<path d="M505.1,341.2 L551.2,341.2 L551.2,361.9 L541.1,370.4 L551.2,379.2 L551.2,389.5 L505.1,389.5 L505.1,379.2 L514.8,370.4 L505.1,361.9 Z" fill="#231f20"/>
<line x1="514.8" y1="370.4" x2="541.1" y2="370.4" stroke="#fff" stroke-width="1.8"/>
<path d="M562,332.2 L608.1,332.2 L608.1,346.1 L597.3,354 L608.1,360.7 L608.1,368.6 L562,368.6 L562,360.7 L572.6,354 L562,346.1 Z" fill="#4a4479"/>
<line x1="572.6" y1="354" x2="597.3" y2="354" stroke="#2a2540" stroke-width="1.2"/>
<rect x="499.4" y="229" width="118.80000000000007" height="179.8" fill="none" stroke="#111" stroke-width="1.4"/>
<line x1="528" y1="408.8" x2="528" y2="410.8" stroke="#111" stroke-width="1"/>
<line x1="585.5" y1="408.8" x2="585.5" y2="410.8" stroke="#111" stroke-width="1"/>
<path d="M527.8,259.7 L527.8,256.3 L585.7,256.3 L585.7,259.7" fill="none" stroke="#555" stroke-width="1"/>
<text x="555.4" y="259.3" font-size="14" text-anchor="middle" fill="#222" stroke="#222" stroke-width="0.22" letter-spacing="0.8">***</text>
<text x="530.5" y="421.9" font-size="11" text-anchor="middle" fill="#222" stroke="#222" stroke-width="0.22" >DMSO</text>
<text x="585.1" y="421.9" font-size="11" text-anchor="middle" fill="#222" stroke="#222" stroke-width="0.22" >DRB</text>
<text x="454" y="319.3" font-size="11.2" text-anchor="middle" fill="#222" stroke="#222" stroke-width="0.22" transform="rotate(-90 454 319.3)">ERα Condensate</text>
<text x="467.7" y="317.6" font-size="11.2" text-anchor="middle" fill="#222" stroke="#222" stroke-width="0.22" transform="rotate(-90 467.7 317.6)">Volume Fraction</text>
</svg></body></html>
